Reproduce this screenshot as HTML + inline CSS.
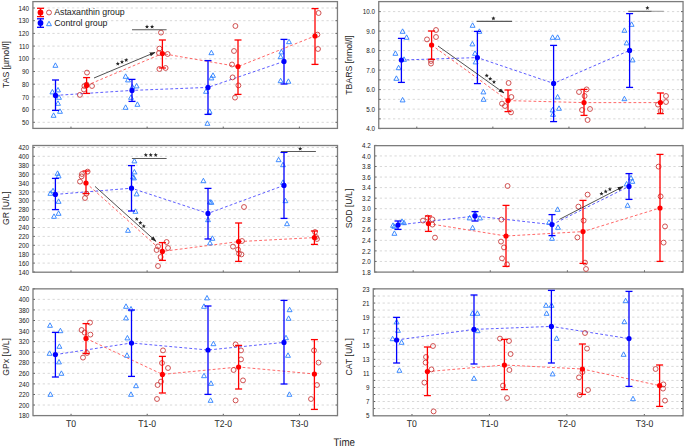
<!DOCTYPE html>
<html><head><meta charset="utf-8"><title>chart</title>
<style>
html,body{margin:0;padding:0;background:#fff;}
body{width:685px;height:447px;overflow:hidden;}
svg{display:block;font-family:"Liberation Sans", sans-serif;}
</style></head><body>
<svg width="685" height="447" viewBox="0 0 685 447">
<defs><marker id="ah" viewBox="0 0 10 10" refX="9" refY="5" markerWidth="6" markerHeight="6" orient="auto" markerUnits="userSpaceOnUse"><path d="M0,1.6 L10,5 L0,8.4 z" fill="#262626"/></marker></defs>
<rect width="685" height="447" fill="#fff"/>
<line x1="37.68" y1="122.3" x2="336.45" y2="122.3" stroke="#d8d8d8" stroke-width="1" stroke-dasharray="2.3 2.594"/>
<line x1="32.9" y1="122.3" x2="34.9" y2="122.3" stroke="#4a4a4a" stroke-width="0.9"/>
<line x1="335.45" y1="122.3" x2="337.45" y2="122.3" stroke="#4a4a4a" stroke-width="0.9"/>
<text x="29.1" y="124.9" font-size="6.3" text-anchor="end" fill="#1a1a1a">50</text>
<line x1="37.68" y1="109.6" x2="336.45" y2="109.6" stroke="#d8d8d8" stroke-width="1" stroke-dasharray="2.3 2.594"/>
<line x1="32.9" y1="109.6" x2="34.9" y2="109.6" stroke="#4a4a4a" stroke-width="0.9"/>
<line x1="335.45" y1="109.6" x2="337.45" y2="109.6" stroke="#4a4a4a" stroke-width="0.9"/>
<text x="29.1" y="112.2" font-size="6.3" text-anchor="end" fill="#1a1a1a">60</text>
<line x1="37.68" y1="96.9" x2="336.45" y2="96.9" stroke="#d8d8d8" stroke-width="1" stroke-dasharray="2.3 2.594"/>
<line x1="32.9" y1="96.9" x2="34.9" y2="96.9" stroke="#4a4a4a" stroke-width="0.9"/>
<line x1="335.45" y1="96.9" x2="337.45" y2="96.9" stroke="#4a4a4a" stroke-width="0.9"/>
<text x="29.1" y="99.5" font-size="6.3" text-anchor="end" fill="#1a1a1a">70</text>
<line x1="37.68" y1="84.2" x2="336.45" y2="84.2" stroke="#d8d8d8" stroke-width="1" stroke-dasharray="2.3 2.594"/>
<line x1="32.9" y1="84.2" x2="34.9" y2="84.2" stroke="#4a4a4a" stroke-width="0.9"/>
<line x1="335.45" y1="84.2" x2="337.45" y2="84.2" stroke="#4a4a4a" stroke-width="0.9"/>
<text x="29.1" y="86.8" font-size="6.3" text-anchor="end" fill="#1a1a1a">80</text>
<line x1="37.68" y1="71.5" x2="336.45" y2="71.5" stroke="#d8d8d8" stroke-width="1" stroke-dasharray="2.3 2.594"/>
<line x1="32.9" y1="71.5" x2="34.9" y2="71.5" stroke="#4a4a4a" stroke-width="0.9"/>
<line x1="335.45" y1="71.5" x2="337.45" y2="71.5" stroke="#4a4a4a" stroke-width="0.9"/>
<text x="29.1" y="74.1" font-size="6.3" text-anchor="end" fill="#1a1a1a">90</text>
<line x1="37.68" y1="58.8" x2="336.45" y2="58.8" stroke="#d8d8d8" stroke-width="1" stroke-dasharray="2.3 2.594"/>
<line x1="32.9" y1="58.8" x2="34.9" y2="58.8" stroke="#4a4a4a" stroke-width="0.9"/>
<line x1="335.45" y1="58.8" x2="337.45" y2="58.8" stroke="#4a4a4a" stroke-width="0.9"/>
<text x="29.1" y="61.4" font-size="6.3" text-anchor="end" fill="#1a1a1a">100</text>
<line x1="37.68" y1="46.1" x2="336.45" y2="46.1" stroke="#d8d8d8" stroke-width="1" stroke-dasharray="2.3 2.594"/>
<line x1="32.9" y1="46.1" x2="34.9" y2="46.1" stroke="#4a4a4a" stroke-width="0.9"/>
<line x1="335.45" y1="46.1" x2="337.45" y2="46.1" stroke="#4a4a4a" stroke-width="0.9"/>
<text x="29.1" y="48.7" font-size="6.3" text-anchor="end" fill="#1a1a1a">110</text>
<line x1="37.68" y1="33.4" x2="336.45" y2="33.4" stroke="#d8d8d8" stroke-width="1" stroke-dasharray="2.3 2.594"/>
<line x1="32.9" y1="33.4" x2="34.9" y2="33.4" stroke="#4a4a4a" stroke-width="0.9"/>
<line x1="335.45" y1="33.4" x2="337.45" y2="33.4" stroke="#4a4a4a" stroke-width="0.9"/>
<text x="29.1" y="36" font-size="6.3" text-anchor="end" fill="#1a1a1a">120</text>
<line x1="37.68" y1="20.7" x2="336.45" y2="20.7" stroke="#d8d8d8" stroke-width="1" stroke-dasharray="2.3 2.594"/>
<line x1="32.9" y1="20.7" x2="34.9" y2="20.7" stroke="#4a4a4a" stroke-width="0.9"/>
<line x1="335.45" y1="20.7" x2="337.45" y2="20.7" stroke="#4a4a4a" stroke-width="0.9"/>
<text x="29.1" y="23.3" font-size="6.3" text-anchor="end" fill="#1a1a1a">130</text>
<line x1="37.68" y1="8" x2="336.45" y2="8" stroke="#d8d8d8" stroke-width="1" stroke-dasharray="2.3 2.594"/>
<line x1="32.9" y1="8" x2="34.9" y2="8" stroke="#4a4a4a" stroke-width="0.9"/>
<line x1="335.45" y1="8" x2="337.45" y2="8" stroke="#4a4a4a" stroke-width="0.9"/>
<text x="29.1" y="10.6" font-size="6.3" text-anchor="end" fill="#1a1a1a">140</text>
<line x1="70.97" y1="128.4" x2="70.97" y2="126.6" stroke="#4a4a4a" stroke-width="0.9"/>
<line x1="147.11" y1="128.4" x2="147.11" y2="126.6" stroke="#4a4a4a" stroke-width="0.9"/>
<line x1="223.24" y1="128.4" x2="223.24" y2="126.6" stroke="#4a4a4a" stroke-width="0.9"/>
<line x1="299.38" y1="128.4" x2="299.38" y2="126.6" stroke="#4a4a4a" stroke-width="0.9"/>
<rect x="32.9" y="1.6" width="304.55" height="126.8" fill="none" stroke="#7c7c7c" stroke-width="1.3"/>
<text transform="translate(8.6,64.6) rotate(-90)" font-size="8.7" text-anchor="middle" fill="#1a1a1a">TAS [µmol/l]</text>
<line x1="378.75" y1="128.6" x2="380.75" y2="128.6" stroke="#4a4a4a" stroke-width="0.9"/>
<line x1="681.05" y1="128.6" x2="683.05" y2="128.6" stroke="#4a4a4a" stroke-width="0.9"/>
<text x="374.95" y="131.2" font-size="6.3" text-anchor="end" fill="#1a1a1a">4.0</text>
<line x1="383.19" y1="118.85" x2="682.05" y2="118.85" stroke="#d8d8d8" stroke-width="1" stroke-dasharray="2.3 2.594"/>
<line x1="378.75" y1="118.85" x2="380.75" y2="118.85" stroke="#4a4a4a" stroke-width="0.9"/>
<line x1="681.05" y1="118.85" x2="683.05" y2="118.85" stroke="#4a4a4a" stroke-width="0.9"/>
<line x1="383.19" y1="109.1" x2="682.05" y2="109.1" stroke="#d8d8d8" stroke-width="1" stroke-dasharray="2.3 2.594"/>
<line x1="378.75" y1="109.1" x2="380.75" y2="109.1" stroke="#4a4a4a" stroke-width="0.9"/>
<line x1="681.05" y1="109.1" x2="683.05" y2="109.1" stroke="#4a4a4a" stroke-width="0.9"/>
<text x="374.95" y="111.7" font-size="6.3" text-anchor="end" fill="#1a1a1a">5.0</text>
<line x1="383.19" y1="99.35" x2="682.05" y2="99.35" stroke="#d8d8d8" stroke-width="1" stroke-dasharray="2.3 2.594"/>
<line x1="378.75" y1="99.35" x2="380.75" y2="99.35" stroke="#4a4a4a" stroke-width="0.9"/>
<line x1="681.05" y1="99.35" x2="683.05" y2="99.35" stroke="#4a4a4a" stroke-width="0.9"/>
<line x1="383.19" y1="89.6" x2="682.05" y2="89.6" stroke="#d8d8d8" stroke-width="1" stroke-dasharray="2.3 2.594"/>
<line x1="378.75" y1="89.6" x2="380.75" y2="89.6" stroke="#4a4a4a" stroke-width="0.9"/>
<line x1="681.05" y1="89.6" x2="683.05" y2="89.6" stroke="#4a4a4a" stroke-width="0.9"/>
<text x="374.95" y="92.2" font-size="6.3" text-anchor="end" fill="#1a1a1a">6.0</text>
<line x1="383.19" y1="79.85" x2="682.05" y2="79.85" stroke="#d8d8d8" stroke-width="1" stroke-dasharray="2.3 2.594"/>
<line x1="378.75" y1="79.85" x2="380.75" y2="79.85" stroke="#4a4a4a" stroke-width="0.9"/>
<line x1="681.05" y1="79.85" x2="683.05" y2="79.85" stroke="#4a4a4a" stroke-width="0.9"/>
<line x1="383.19" y1="70.1" x2="682.05" y2="70.1" stroke="#d8d8d8" stroke-width="1" stroke-dasharray="2.3 2.594"/>
<line x1="378.75" y1="70.1" x2="380.75" y2="70.1" stroke="#4a4a4a" stroke-width="0.9"/>
<line x1="681.05" y1="70.1" x2="683.05" y2="70.1" stroke="#4a4a4a" stroke-width="0.9"/>
<text x="374.95" y="72.7" font-size="6.3" text-anchor="end" fill="#1a1a1a">7.0</text>
<line x1="383.19" y1="60.35" x2="682.05" y2="60.35" stroke="#d8d8d8" stroke-width="1" stroke-dasharray="2.3 2.594"/>
<line x1="378.75" y1="60.35" x2="380.75" y2="60.35" stroke="#4a4a4a" stroke-width="0.9"/>
<line x1="681.05" y1="60.35" x2="683.05" y2="60.35" stroke="#4a4a4a" stroke-width="0.9"/>
<line x1="383.19" y1="50.6" x2="682.05" y2="50.6" stroke="#d8d8d8" stroke-width="1" stroke-dasharray="2.3 2.594"/>
<line x1="378.75" y1="50.6" x2="380.75" y2="50.6" stroke="#4a4a4a" stroke-width="0.9"/>
<line x1="681.05" y1="50.6" x2="683.05" y2="50.6" stroke="#4a4a4a" stroke-width="0.9"/>
<text x="374.95" y="53.2" font-size="6.3" text-anchor="end" fill="#1a1a1a">8.0</text>
<line x1="383.19" y1="40.85" x2="682.05" y2="40.85" stroke="#d8d8d8" stroke-width="1" stroke-dasharray="2.3 2.594"/>
<line x1="378.75" y1="40.85" x2="380.75" y2="40.85" stroke="#4a4a4a" stroke-width="0.9"/>
<line x1="681.05" y1="40.85" x2="683.05" y2="40.85" stroke="#4a4a4a" stroke-width="0.9"/>
<line x1="383.19" y1="31.1" x2="682.05" y2="31.1" stroke="#d8d8d8" stroke-width="1" stroke-dasharray="2.3 2.594"/>
<line x1="378.75" y1="31.1" x2="380.75" y2="31.1" stroke="#4a4a4a" stroke-width="0.9"/>
<line x1="681.05" y1="31.1" x2="683.05" y2="31.1" stroke="#4a4a4a" stroke-width="0.9"/>
<text x="374.95" y="33.7" font-size="6.3" text-anchor="end" fill="#1a1a1a">9.0</text>
<line x1="383.19" y1="21.35" x2="682.05" y2="21.35" stroke="#d8d8d8" stroke-width="1" stroke-dasharray="2.3 2.594"/>
<line x1="378.75" y1="21.35" x2="380.75" y2="21.35" stroke="#4a4a4a" stroke-width="0.9"/>
<line x1="681.05" y1="21.35" x2="683.05" y2="21.35" stroke="#4a4a4a" stroke-width="0.9"/>
<line x1="383.19" y1="11.6" x2="682.05" y2="11.6" stroke="#d8d8d8" stroke-width="1" stroke-dasharray="2.3 2.594"/>
<line x1="378.75" y1="11.6" x2="380.75" y2="11.6" stroke="#4a4a4a" stroke-width="0.9"/>
<line x1="681.05" y1="11.6" x2="683.05" y2="11.6" stroke="#4a4a4a" stroke-width="0.9"/>
<text x="374.95" y="14.2" font-size="6.3" text-anchor="end" fill="#1a1a1a">10.0</text>
<line x1="416.79" y1="128.4" x2="416.79" y2="126.6" stroke="#4a4a4a" stroke-width="0.9"/>
<line x1="492.86" y1="128.4" x2="492.86" y2="126.6" stroke="#4a4a4a" stroke-width="0.9"/>
<line x1="568.94" y1="128.4" x2="568.94" y2="126.6" stroke="#4a4a4a" stroke-width="0.9"/>
<line x1="645.01" y1="128.4" x2="645.01" y2="126.6" stroke="#4a4a4a" stroke-width="0.9"/>
<rect x="378.75" y="1.6" width="304.3" height="126.8" fill="none" stroke="#7c7c7c" stroke-width="1.3"/>
<text transform="translate(352.3,65) rotate(-90)" font-size="8.7" text-anchor="middle" fill="#1a1a1a">TBARS [nmol/l]</text>
<line x1="32.9" y1="272" x2="34.9" y2="272" stroke="#4a4a4a" stroke-width="0.9"/>
<line x1="335.5" y1="272" x2="337.5" y2="272" stroke="#4a4a4a" stroke-width="0.9"/>
<text x="29.1" y="274.6" font-size="6.3" text-anchor="end" fill="#1a1a1a">140</text>
<line x1="37.68" y1="263.1" x2="336.5" y2="263.1" stroke="#d8d8d8" stroke-width="1" stroke-dasharray="2.3 2.594"/>
<line x1="32.9" y1="263.1" x2="34.9" y2="263.1" stroke="#4a4a4a" stroke-width="0.9"/>
<line x1="335.5" y1="263.1" x2="337.5" y2="263.1" stroke="#4a4a4a" stroke-width="0.9"/>
<text x="29.1" y="265.7" font-size="6.3" text-anchor="end" fill="#1a1a1a">160</text>
<line x1="37.68" y1="254.2" x2="336.5" y2="254.2" stroke="#d8d8d8" stroke-width="1" stroke-dasharray="2.3 2.594"/>
<line x1="32.9" y1="254.2" x2="34.9" y2="254.2" stroke="#4a4a4a" stroke-width="0.9"/>
<line x1="335.5" y1="254.2" x2="337.5" y2="254.2" stroke="#4a4a4a" stroke-width="0.9"/>
<text x="29.1" y="256.8" font-size="6.3" text-anchor="end" fill="#1a1a1a">180</text>
<line x1="37.68" y1="245.3" x2="336.5" y2="245.3" stroke="#d8d8d8" stroke-width="1" stroke-dasharray="2.3 2.594"/>
<line x1="32.9" y1="245.3" x2="34.9" y2="245.3" stroke="#4a4a4a" stroke-width="0.9"/>
<line x1="335.5" y1="245.3" x2="337.5" y2="245.3" stroke="#4a4a4a" stroke-width="0.9"/>
<text x="29.1" y="247.9" font-size="6.3" text-anchor="end" fill="#1a1a1a">200</text>
<line x1="37.68" y1="236.4" x2="336.5" y2="236.4" stroke="#d8d8d8" stroke-width="1" stroke-dasharray="2.3 2.594"/>
<line x1="32.9" y1="236.4" x2="34.9" y2="236.4" stroke="#4a4a4a" stroke-width="0.9"/>
<line x1="335.5" y1="236.4" x2="337.5" y2="236.4" stroke="#4a4a4a" stroke-width="0.9"/>
<text x="29.1" y="239" font-size="6.3" text-anchor="end" fill="#1a1a1a">220</text>
<line x1="37.68" y1="227.5" x2="336.5" y2="227.5" stroke="#d8d8d8" stroke-width="1" stroke-dasharray="2.3 2.594"/>
<line x1="32.9" y1="227.5" x2="34.9" y2="227.5" stroke="#4a4a4a" stroke-width="0.9"/>
<line x1="335.5" y1="227.5" x2="337.5" y2="227.5" stroke="#4a4a4a" stroke-width="0.9"/>
<text x="29.1" y="230.1" font-size="6.3" text-anchor="end" fill="#1a1a1a">240</text>
<line x1="37.68" y1="218.6" x2="336.5" y2="218.6" stroke="#d8d8d8" stroke-width="1" stroke-dasharray="2.3 2.594"/>
<line x1="32.9" y1="218.6" x2="34.9" y2="218.6" stroke="#4a4a4a" stroke-width="0.9"/>
<line x1="335.5" y1="218.6" x2="337.5" y2="218.6" stroke="#4a4a4a" stroke-width="0.9"/>
<text x="29.1" y="221.2" font-size="6.3" text-anchor="end" fill="#1a1a1a">260</text>
<line x1="37.68" y1="209.7" x2="336.5" y2="209.7" stroke="#d8d8d8" stroke-width="1" stroke-dasharray="2.3 2.594"/>
<line x1="32.9" y1="209.7" x2="34.9" y2="209.7" stroke="#4a4a4a" stroke-width="0.9"/>
<line x1="335.5" y1="209.7" x2="337.5" y2="209.7" stroke="#4a4a4a" stroke-width="0.9"/>
<text x="29.1" y="212.3" font-size="6.3" text-anchor="end" fill="#1a1a1a">280</text>
<line x1="37.68" y1="200.8" x2="336.5" y2="200.8" stroke="#d8d8d8" stroke-width="1" stroke-dasharray="2.3 2.594"/>
<line x1="32.9" y1="200.8" x2="34.9" y2="200.8" stroke="#4a4a4a" stroke-width="0.9"/>
<line x1="335.5" y1="200.8" x2="337.5" y2="200.8" stroke="#4a4a4a" stroke-width="0.9"/>
<text x="29.1" y="203.4" font-size="6.3" text-anchor="end" fill="#1a1a1a">300</text>
<line x1="37.68" y1="191.9" x2="336.5" y2="191.9" stroke="#d8d8d8" stroke-width="1" stroke-dasharray="2.3 2.594"/>
<line x1="32.9" y1="191.9" x2="34.9" y2="191.9" stroke="#4a4a4a" stroke-width="0.9"/>
<line x1="335.5" y1="191.9" x2="337.5" y2="191.9" stroke="#4a4a4a" stroke-width="0.9"/>
<text x="29.1" y="194.5" font-size="6.3" text-anchor="end" fill="#1a1a1a">320</text>
<line x1="37.68" y1="183" x2="336.5" y2="183" stroke="#d8d8d8" stroke-width="1" stroke-dasharray="2.3 2.594"/>
<line x1="32.9" y1="183" x2="34.9" y2="183" stroke="#4a4a4a" stroke-width="0.9"/>
<line x1="335.5" y1="183" x2="337.5" y2="183" stroke="#4a4a4a" stroke-width="0.9"/>
<text x="29.1" y="185.6" font-size="6.3" text-anchor="end" fill="#1a1a1a">340</text>
<line x1="37.68" y1="174.1" x2="336.5" y2="174.1" stroke="#d8d8d8" stroke-width="1" stroke-dasharray="2.3 2.594"/>
<line x1="32.9" y1="174.1" x2="34.9" y2="174.1" stroke="#4a4a4a" stroke-width="0.9"/>
<line x1="335.5" y1="174.1" x2="337.5" y2="174.1" stroke="#4a4a4a" stroke-width="0.9"/>
<text x="29.1" y="176.7" font-size="6.3" text-anchor="end" fill="#1a1a1a">360</text>
<line x1="37.68" y1="165.2" x2="336.5" y2="165.2" stroke="#d8d8d8" stroke-width="1" stroke-dasharray="2.3 2.594"/>
<line x1="32.9" y1="165.2" x2="34.9" y2="165.2" stroke="#4a4a4a" stroke-width="0.9"/>
<line x1="335.5" y1="165.2" x2="337.5" y2="165.2" stroke="#4a4a4a" stroke-width="0.9"/>
<text x="29.1" y="167.8" font-size="6.3" text-anchor="end" fill="#1a1a1a">380</text>
<line x1="37.68" y1="156.3" x2="336.5" y2="156.3" stroke="#d8d8d8" stroke-width="1" stroke-dasharray="2.3 2.594"/>
<line x1="32.9" y1="156.3" x2="34.9" y2="156.3" stroke="#4a4a4a" stroke-width="0.9"/>
<line x1="335.5" y1="156.3" x2="337.5" y2="156.3" stroke="#4a4a4a" stroke-width="0.9"/>
<text x="29.1" y="158.9" font-size="6.3" text-anchor="end" fill="#1a1a1a">400</text>
<line x1="37.68" y1="147.4" x2="336.5" y2="147.4" stroke="#d8d8d8" stroke-width="1" stroke-dasharray="2.3 2.594"/>
<line x1="32.9" y1="147.4" x2="34.9" y2="147.4" stroke="#4a4a4a" stroke-width="0.9"/>
<line x1="335.5" y1="147.4" x2="337.5" y2="147.4" stroke="#4a4a4a" stroke-width="0.9"/>
<text x="29.1" y="150" font-size="6.3" text-anchor="end" fill="#1a1a1a">420</text>
<line x1="70.97" y1="272.2" x2="70.97" y2="270.4" stroke="#4a4a4a" stroke-width="0.9"/>
<line x1="147.12" y1="272.2" x2="147.12" y2="270.4" stroke="#4a4a4a" stroke-width="0.9"/>
<line x1="223.28" y1="272.2" x2="223.28" y2="270.4" stroke="#4a4a4a" stroke-width="0.9"/>
<line x1="299.43" y1="272.2" x2="299.43" y2="270.4" stroke="#4a4a4a" stroke-width="0.9"/>
<rect x="32.9" y="145.5" width="304.6" height="126.7" fill="none" stroke="#7c7c7c" stroke-width="1.3"/>
<text transform="translate(8.5,208.2) rotate(-90)" font-size="8.7" text-anchor="middle" fill="#1a1a1a">GR [U/L]</text>
<line x1="374.6" y1="272" x2="376.6" y2="272" stroke="#4a4a4a" stroke-width="0.9"/>
<line x1="681.05" y1="272" x2="683.05" y2="272" stroke="#4a4a4a" stroke-width="0.9"/>
<text x="370.8" y="274.6" font-size="6.3" text-anchor="end" fill="#1a1a1a">1.8</text>
<line x1="379.74" y1="261.45" x2="682.05" y2="261.45" stroke="#d8d8d8" stroke-width="1" stroke-dasharray="2.3 2.594"/>
<line x1="374.6" y1="261.45" x2="376.6" y2="261.45" stroke="#4a4a4a" stroke-width="0.9"/>
<line x1="681.05" y1="261.45" x2="683.05" y2="261.45" stroke="#4a4a4a" stroke-width="0.9"/>
<text x="370.8" y="264.05" font-size="6.3" text-anchor="end" fill="#1a1a1a">2.0</text>
<line x1="379.74" y1="250.9" x2="682.05" y2="250.9" stroke="#d8d8d8" stroke-width="1" stroke-dasharray="2.3 2.594"/>
<line x1="374.6" y1="250.9" x2="376.6" y2="250.9" stroke="#4a4a4a" stroke-width="0.9"/>
<line x1="681.05" y1="250.9" x2="683.05" y2="250.9" stroke="#4a4a4a" stroke-width="0.9"/>
<text x="370.8" y="253.5" font-size="6.3" text-anchor="end" fill="#1a1a1a">2.2</text>
<line x1="379.74" y1="240.35" x2="682.05" y2="240.35" stroke="#d8d8d8" stroke-width="1" stroke-dasharray="2.3 2.594"/>
<line x1="374.6" y1="240.35" x2="376.6" y2="240.35" stroke="#4a4a4a" stroke-width="0.9"/>
<line x1="681.05" y1="240.35" x2="683.05" y2="240.35" stroke="#4a4a4a" stroke-width="0.9"/>
<text x="370.8" y="242.95" font-size="6.3" text-anchor="end" fill="#1a1a1a">2.4</text>
<line x1="379.74" y1="229.8" x2="682.05" y2="229.8" stroke="#d8d8d8" stroke-width="1" stroke-dasharray="2.3 2.594"/>
<line x1="374.6" y1="229.8" x2="376.6" y2="229.8" stroke="#4a4a4a" stroke-width="0.9"/>
<line x1="681.05" y1="229.8" x2="683.05" y2="229.8" stroke="#4a4a4a" stroke-width="0.9"/>
<text x="370.8" y="232.4" font-size="6.3" text-anchor="end" fill="#1a1a1a">2.6</text>
<line x1="379.74" y1="219.25" x2="682.05" y2="219.25" stroke="#d8d8d8" stroke-width="1" stroke-dasharray="2.3 2.594"/>
<line x1="374.6" y1="219.25" x2="376.6" y2="219.25" stroke="#4a4a4a" stroke-width="0.9"/>
<line x1="681.05" y1="219.25" x2="683.05" y2="219.25" stroke="#4a4a4a" stroke-width="0.9"/>
<text x="370.8" y="221.85" font-size="6.3" text-anchor="end" fill="#1a1a1a">2.8</text>
<line x1="379.74" y1="208.7" x2="682.05" y2="208.7" stroke="#d8d8d8" stroke-width="1" stroke-dasharray="2.3 2.594"/>
<line x1="374.6" y1="208.7" x2="376.6" y2="208.7" stroke="#4a4a4a" stroke-width="0.9"/>
<line x1="681.05" y1="208.7" x2="683.05" y2="208.7" stroke="#4a4a4a" stroke-width="0.9"/>
<text x="370.8" y="211.3" font-size="6.3" text-anchor="end" fill="#1a1a1a">3.0</text>
<line x1="379.74" y1="198.15" x2="682.05" y2="198.15" stroke="#d8d8d8" stroke-width="1" stroke-dasharray="2.3 2.594"/>
<line x1="374.6" y1="198.15" x2="376.6" y2="198.15" stroke="#4a4a4a" stroke-width="0.9"/>
<line x1="681.05" y1="198.15" x2="683.05" y2="198.15" stroke="#4a4a4a" stroke-width="0.9"/>
<text x="370.8" y="200.75" font-size="6.3" text-anchor="end" fill="#1a1a1a">3.2</text>
<line x1="379.74" y1="187.6" x2="682.05" y2="187.6" stroke="#d8d8d8" stroke-width="1" stroke-dasharray="2.3 2.594"/>
<line x1="374.6" y1="187.6" x2="376.6" y2="187.6" stroke="#4a4a4a" stroke-width="0.9"/>
<line x1="681.05" y1="187.6" x2="683.05" y2="187.6" stroke="#4a4a4a" stroke-width="0.9"/>
<text x="370.8" y="190.2" font-size="6.3" text-anchor="end" fill="#1a1a1a">3.4</text>
<line x1="379.74" y1="177.05" x2="682.05" y2="177.05" stroke="#d8d8d8" stroke-width="1" stroke-dasharray="2.3 2.594"/>
<line x1="374.6" y1="177.05" x2="376.6" y2="177.05" stroke="#4a4a4a" stroke-width="0.9"/>
<line x1="681.05" y1="177.05" x2="683.05" y2="177.05" stroke="#4a4a4a" stroke-width="0.9"/>
<text x="370.8" y="179.65" font-size="6.3" text-anchor="end" fill="#1a1a1a">3.6</text>
<line x1="379.74" y1="166.5" x2="682.05" y2="166.5" stroke="#d8d8d8" stroke-width="1" stroke-dasharray="2.3 2.594"/>
<line x1="374.6" y1="166.5" x2="376.6" y2="166.5" stroke="#4a4a4a" stroke-width="0.9"/>
<line x1="681.05" y1="166.5" x2="683.05" y2="166.5" stroke="#4a4a4a" stroke-width="0.9"/>
<text x="370.8" y="169.1" font-size="6.3" text-anchor="end" fill="#1a1a1a">3.8</text>
<line x1="379.74" y1="155.95" x2="682.05" y2="155.95" stroke="#d8d8d8" stroke-width="1" stroke-dasharray="2.3 2.594"/>
<line x1="374.6" y1="155.95" x2="376.6" y2="155.95" stroke="#4a4a4a" stroke-width="0.9"/>
<line x1="681.05" y1="155.95" x2="683.05" y2="155.95" stroke="#4a4a4a" stroke-width="0.9"/>
<text x="370.8" y="158.55" font-size="6.3" text-anchor="end" fill="#1a1a1a">4.0</text>
<line x1="374.6" y1="145.4" x2="376.6" y2="145.4" stroke="#4a4a4a" stroke-width="0.9"/>
<line x1="681.05" y1="145.4" x2="683.05" y2="145.4" stroke="#4a4a4a" stroke-width="0.9"/>
<text x="370.8" y="148" font-size="6.3" text-anchor="end" fill="#1a1a1a">4.2</text>
<line x1="413.16" y1="272.1" x2="413.16" y2="270.3" stroke="#4a4a4a" stroke-width="0.9"/>
<line x1="490.27" y1="272.1" x2="490.27" y2="270.3" stroke="#4a4a4a" stroke-width="0.9"/>
<line x1="567.38" y1="272.1" x2="567.38" y2="270.3" stroke="#4a4a4a" stroke-width="0.9"/>
<line x1="644.49" y1="272.1" x2="644.49" y2="270.3" stroke="#4a4a4a" stroke-width="0.9"/>
<rect x="374.6" y="145.65" width="308.45" height="126.45" fill="none" stroke="#7c7c7c" stroke-width="1.3"/>
<text transform="translate(352.3,208.5) rotate(-90)" font-size="8.7" text-anchor="middle" fill="#1a1a1a">SOD [U/L]</text>
<line x1="33" y1="415.6" x2="35" y2="415.6" stroke="#4a4a4a" stroke-width="0.9"/>
<line x1="335.5" y1="415.6" x2="337.5" y2="415.6" stroke="#4a4a4a" stroke-width="0.9"/>
<text x="29.2" y="418.2" font-size="6.3" text-anchor="end" fill="#1a1a1a">180</text>
<line x1="37.78" y1="405.03" x2="336.5" y2="405.03" stroke="#d8d8d8" stroke-width="1" stroke-dasharray="2.3 2.594"/>
<line x1="33" y1="405.03" x2="35" y2="405.03" stroke="#4a4a4a" stroke-width="0.9"/>
<line x1="335.5" y1="405.03" x2="337.5" y2="405.03" stroke="#4a4a4a" stroke-width="0.9"/>
<text x="29.2" y="407.63" font-size="6.3" text-anchor="end" fill="#1a1a1a">200</text>
<line x1="37.78" y1="394.47" x2="336.5" y2="394.47" stroke="#d8d8d8" stroke-width="1" stroke-dasharray="2.3 2.594"/>
<line x1="33" y1="394.47" x2="35" y2="394.47" stroke="#4a4a4a" stroke-width="0.9"/>
<line x1="335.5" y1="394.47" x2="337.5" y2="394.47" stroke="#4a4a4a" stroke-width="0.9"/>
<text x="29.2" y="397.07" font-size="6.3" text-anchor="end" fill="#1a1a1a">220</text>
<line x1="37.78" y1="383.9" x2="336.5" y2="383.9" stroke="#d8d8d8" stroke-width="1" stroke-dasharray="2.3 2.594"/>
<line x1="33" y1="383.9" x2="35" y2="383.9" stroke="#4a4a4a" stroke-width="0.9"/>
<line x1="335.5" y1="383.9" x2="337.5" y2="383.9" stroke="#4a4a4a" stroke-width="0.9"/>
<text x="29.2" y="386.5" font-size="6.3" text-anchor="end" fill="#1a1a1a">240</text>
<line x1="37.78" y1="373.33" x2="336.5" y2="373.33" stroke="#d8d8d8" stroke-width="1" stroke-dasharray="2.3 2.594"/>
<line x1="33" y1="373.33" x2="35" y2="373.33" stroke="#4a4a4a" stroke-width="0.9"/>
<line x1="335.5" y1="373.33" x2="337.5" y2="373.33" stroke="#4a4a4a" stroke-width="0.9"/>
<text x="29.2" y="375.93" font-size="6.3" text-anchor="end" fill="#1a1a1a">260</text>
<line x1="37.78" y1="362.77" x2="336.5" y2="362.77" stroke="#d8d8d8" stroke-width="1" stroke-dasharray="2.3 2.594"/>
<line x1="33" y1="362.77" x2="35" y2="362.77" stroke="#4a4a4a" stroke-width="0.9"/>
<line x1="335.5" y1="362.77" x2="337.5" y2="362.77" stroke="#4a4a4a" stroke-width="0.9"/>
<text x="29.2" y="365.37" font-size="6.3" text-anchor="end" fill="#1a1a1a">280</text>
<line x1="37.78" y1="352.2" x2="336.5" y2="352.2" stroke="#d8d8d8" stroke-width="1" stroke-dasharray="2.3 2.594"/>
<line x1="33" y1="352.2" x2="35" y2="352.2" stroke="#4a4a4a" stroke-width="0.9"/>
<line x1="335.5" y1="352.2" x2="337.5" y2="352.2" stroke="#4a4a4a" stroke-width="0.9"/>
<text x="29.2" y="354.8" font-size="6.3" text-anchor="end" fill="#1a1a1a">300</text>
<line x1="37.78" y1="341.63" x2="336.5" y2="341.63" stroke="#d8d8d8" stroke-width="1" stroke-dasharray="2.3 2.594"/>
<line x1="33" y1="341.63" x2="35" y2="341.63" stroke="#4a4a4a" stroke-width="0.9"/>
<line x1="335.5" y1="341.63" x2="337.5" y2="341.63" stroke="#4a4a4a" stroke-width="0.9"/>
<text x="29.2" y="344.23" font-size="6.3" text-anchor="end" fill="#1a1a1a">320</text>
<line x1="37.78" y1="331.07" x2="336.5" y2="331.07" stroke="#d8d8d8" stroke-width="1" stroke-dasharray="2.3 2.594"/>
<line x1="33" y1="331.07" x2="35" y2="331.07" stroke="#4a4a4a" stroke-width="0.9"/>
<line x1="335.5" y1="331.07" x2="337.5" y2="331.07" stroke="#4a4a4a" stroke-width="0.9"/>
<text x="29.2" y="333.67" font-size="6.3" text-anchor="end" fill="#1a1a1a">340</text>
<line x1="37.78" y1="320.5" x2="336.5" y2="320.5" stroke="#d8d8d8" stroke-width="1" stroke-dasharray="2.3 2.594"/>
<line x1="33" y1="320.5" x2="35" y2="320.5" stroke="#4a4a4a" stroke-width="0.9"/>
<line x1="335.5" y1="320.5" x2="337.5" y2="320.5" stroke="#4a4a4a" stroke-width="0.9"/>
<text x="29.2" y="323.1" font-size="6.3" text-anchor="end" fill="#1a1a1a">360</text>
<line x1="37.78" y1="309.93" x2="336.5" y2="309.93" stroke="#d8d8d8" stroke-width="1" stroke-dasharray="2.3 2.594"/>
<line x1="33" y1="309.93" x2="35" y2="309.93" stroke="#4a4a4a" stroke-width="0.9"/>
<line x1="335.5" y1="309.93" x2="337.5" y2="309.93" stroke="#4a4a4a" stroke-width="0.9"/>
<text x="29.2" y="312.53" font-size="6.3" text-anchor="end" fill="#1a1a1a">380</text>
<line x1="37.78" y1="299.37" x2="336.5" y2="299.37" stroke="#d8d8d8" stroke-width="1" stroke-dasharray="2.3 2.594"/>
<line x1="33" y1="299.37" x2="35" y2="299.37" stroke="#4a4a4a" stroke-width="0.9"/>
<line x1="335.5" y1="299.37" x2="337.5" y2="299.37" stroke="#4a4a4a" stroke-width="0.9"/>
<text x="29.2" y="301.97" font-size="6.3" text-anchor="end" fill="#1a1a1a">400</text>
<line x1="33" y1="288.8" x2="35" y2="288.8" stroke="#4a4a4a" stroke-width="0.9"/>
<line x1="335.5" y1="288.8" x2="337.5" y2="288.8" stroke="#4a4a4a" stroke-width="0.9"/>
<text x="29.2" y="291.4" font-size="6.3" text-anchor="end" fill="#1a1a1a">420</text>
<line x1="71.06" y1="415.6" x2="71.06" y2="413.8" stroke="#4a4a4a" stroke-width="0.9"/>
<line x1="147.19" y1="415.6" x2="147.19" y2="413.8" stroke="#4a4a4a" stroke-width="0.9"/>
<line x1="223.31" y1="415.6" x2="223.31" y2="413.8" stroke="#4a4a4a" stroke-width="0.9"/>
<line x1="299.44" y1="415.6" x2="299.44" y2="413.8" stroke="#4a4a4a" stroke-width="0.9"/>
<rect x="33" y="288.85" width="304.5" height="126.75" fill="none" stroke="#7c7c7c" stroke-width="1.3"/>
<text transform="translate(8.7,356.9) rotate(-90)" font-size="8.7" text-anchor="middle" fill="#1a1a1a">GPx [U/L]</text>
<line x1="373.25" y1="415.6" x2="375.25" y2="415.6" stroke="#4a4a4a" stroke-width="0.9"/>
<line x1="681.05" y1="415.6" x2="683.05" y2="415.6" stroke="#4a4a4a" stroke-width="0.9"/>
<text x="369.45" y="418.2" font-size="6.3" text-anchor="end" fill="#1a1a1a">5</text>
<line x1="377.69" y1="408.57" x2="682.05" y2="408.57" stroke="#d8d8d8" stroke-width="1" stroke-dasharray="2.3 2.594"/>
<line x1="373.25" y1="408.57" x2="375.25" y2="408.57" stroke="#4a4a4a" stroke-width="0.9"/>
<line x1="681.05" y1="408.57" x2="683.05" y2="408.57" stroke="#4a4a4a" stroke-width="0.9"/>
<line x1="377.69" y1="401.53" x2="682.05" y2="401.53" stroke="#d8d8d8" stroke-width="1" stroke-dasharray="2.3 2.594"/>
<line x1="373.25" y1="401.53" x2="375.25" y2="401.53" stroke="#4a4a4a" stroke-width="0.9"/>
<line x1="681.05" y1="401.53" x2="683.05" y2="401.53" stroke="#4a4a4a" stroke-width="0.9"/>
<text x="369.45" y="404.13" font-size="6.3" text-anchor="end" fill="#1a1a1a">7</text>
<line x1="377.69" y1="394.5" x2="682.05" y2="394.5" stroke="#d8d8d8" stroke-width="1" stroke-dasharray="2.3 2.594"/>
<line x1="373.25" y1="394.5" x2="375.25" y2="394.5" stroke="#4a4a4a" stroke-width="0.9"/>
<line x1="681.05" y1="394.5" x2="683.05" y2="394.5" stroke="#4a4a4a" stroke-width="0.9"/>
<line x1="377.69" y1="387.47" x2="682.05" y2="387.47" stroke="#d8d8d8" stroke-width="1" stroke-dasharray="2.3 2.594"/>
<line x1="373.25" y1="387.47" x2="375.25" y2="387.47" stroke="#4a4a4a" stroke-width="0.9"/>
<line x1="681.05" y1="387.47" x2="683.05" y2="387.47" stroke="#4a4a4a" stroke-width="0.9"/>
<text x="369.45" y="390.07" font-size="6.3" text-anchor="end" fill="#1a1a1a">9</text>
<line x1="377.69" y1="380.43" x2="682.05" y2="380.43" stroke="#d8d8d8" stroke-width="1" stroke-dasharray="2.3 2.594"/>
<line x1="373.25" y1="380.43" x2="375.25" y2="380.43" stroke="#4a4a4a" stroke-width="0.9"/>
<line x1="681.05" y1="380.43" x2="683.05" y2="380.43" stroke="#4a4a4a" stroke-width="0.9"/>
<line x1="377.69" y1="373.4" x2="682.05" y2="373.4" stroke="#d8d8d8" stroke-width="1" stroke-dasharray="2.3 2.594"/>
<line x1="373.25" y1="373.4" x2="375.25" y2="373.4" stroke="#4a4a4a" stroke-width="0.9"/>
<line x1="681.05" y1="373.4" x2="683.05" y2="373.4" stroke="#4a4a4a" stroke-width="0.9"/>
<text x="369.45" y="376" font-size="6.3" text-anchor="end" fill="#1a1a1a">11</text>
<line x1="377.69" y1="366.37" x2="682.05" y2="366.37" stroke="#d8d8d8" stroke-width="1" stroke-dasharray="2.3 2.594"/>
<line x1="373.25" y1="366.37" x2="375.25" y2="366.37" stroke="#4a4a4a" stroke-width="0.9"/>
<line x1="681.05" y1="366.37" x2="683.05" y2="366.37" stroke="#4a4a4a" stroke-width="0.9"/>
<line x1="377.69" y1="359.33" x2="682.05" y2="359.33" stroke="#d8d8d8" stroke-width="1" stroke-dasharray="2.3 2.594"/>
<line x1="373.25" y1="359.33" x2="375.25" y2="359.33" stroke="#4a4a4a" stroke-width="0.9"/>
<line x1="681.05" y1="359.33" x2="683.05" y2="359.33" stroke="#4a4a4a" stroke-width="0.9"/>
<text x="369.45" y="361.93" font-size="6.3" text-anchor="end" fill="#1a1a1a">13</text>
<line x1="377.69" y1="352.3" x2="682.05" y2="352.3" stroke="#d8d8d8" stroke-width="1" stroke-dasharray="2.3 2.594"/>
<line x1="373.25" y1="352.3" x2="375.25" y2="352.3" stroke="#4a4a4a" stroke-width="0.9"/>
<line x1="681.05" y1="352.3" x2="683.05" y2="352.3" stroke="#4a4a4a" stroke-width="0.9"/>
<line x1="377.69" y1="345.27" x2="682.05" y2="345.27" stroke="#d8d8d8" stroke-width="1" stroke-dasharray="2.3 2.594"/>
<line x1="373.25" y1="345.27" x2="375.25" y2="345.27" stroke="#4a4a4a" stroke-width="0.9"/>
<line x1="681.05" y1="345.27" x2="683.05" y2="345.27" stroke="#4a4a4a" stroke-width="0.9"/>
<text x="369.45" y="347.87" font-size="6.3" text-anchor="end" fill="#1a1a1a">15</text>
<line x1="377.69" y1="338.23" x2="682.05" y2="338.23" stroke="#d8d8d8" stroke-width="1" stroke-dasharray="2.3 2.594"/>
<line x1="373.25" y1="338.23" x2="375.25" y2="338.23" stroke="#4a4a4a" stroke-width="0.9"/>
<line x1="681.05" y1="338.23" x2="683.05" y2="338.23" stroke="#4a4a4a" stroke-width="0.9"/>
<line x1="377.69" y1="331.2" x2="682.05" y2="331.2" stroke="#d8d8d8" stroke-width="1" stroke-dasharray="2.3 2.594"/>
<line x1="373.25" y1="331.2" x2="375.25" y2="331.2" stroke="#4a4a4a" stroke-width="0.9"/>
<line x1="681.05" y1="331.2" x2="683.05" y2="331.2" stroke="#4a4a4a" stroke-width="0.9"/>
<text x="369.45" y="333.8" font-size="6.3" text-anchor="end" fill="#1a1a1a">17</text>
<line x1="377.69" y1="324.17" x2="682.05" y2="324.17" stroke="#d8d8d8" stroke-width="1" stroke-dasharray="2.3 2.594"/>
<line x1="373.25" y1="324.17" x2="375.25" y2="324.17" stroke="#4a4a4a" stroke-width="0.9"/>
<line x1="681.05" y1="324.17" x2="683.05" y2="324.17" stroke="#4a4a4a" stroke-width="0.9"/>
<line x1="377.69" y1="317.13" x2="682.05" y2="317.13" stroke="#d8d8d8" stroke-width="1" stroke-dasharray="2.3 2.594"/>
<line x1="373.25" y1="317.13" x2="375.25" y2="317.13" stroke="#4a4a4a" stroke-width="0.9"/>
<line x1="681.05" y1="317.13" x2="683.05" y2="317.13" stroke="#4a4a4a" stroke-width="0.9"/>
<text x="369.45" y="319.73" font-size="6.3" text-anchor="end" fill="#1a1a1a">19</text>
<line x1="377.69" y1="310.1" x2="682.05" y2="310.1" stroke="#d8d8d8" stroke-width="1" stroke-dasharray="2.3 2.594"/>
<line x1="373.25" y1="310.1" x2="375.25" y2="310.1" stroke="#4a4a4a" stroke-width="0.9"/>
<line x1="681.05" y1="310.1" x2="683.05" y2="310.1" stroke="#4a4a4a" stroke-width="0.9"/>
<line x1="377.69" y1="303.07" x2="682.05" y2="303.07" stroke="#d8d8d8" stroke-width="1" stroke-dasharray="2.3 2.594"/>
<line x1="373.25" y1="303.07" x2="375.25" y2="303.07" stroke="#4a4a4a" stroke-width="0.9"/>
<line x1="681.05" y1="303.07" x2="683.05" y2="303.07" stroke="#4a4a4a" stroke-width="0.9"/>
<text x="369.45" y="305.67" font-size="6.3" text-anchor="end" fill="#1a1a1a">21</text>
<line x1="377.69" y1="296.03" x2="682.05" y2="296.03" stroke="#d8d8d8" stroke-width="1" stroke-dasharray="2.3 2.594"/>
<line x1="373.25" y1="296.03" x2="375.25" y2="296.03" stroke="#4a4a4a" stroke-width="0.9"/>
<line x1="681.05" y1="296.03" x2="683.05" y2="296.03" stroke="#4a4a4a" stroke-width="0.9"/>
<line x1="373.25" y1="289" x2="375.25" y2="289" stroke="#4a4a4a" stroke-width="0.9"/>
<line x1="681.05" y1="289" x2="683.05" y2="289" stroke="#4a4a4a" stroke-width="0.9"/>
<text x="369.45" y="291.6" font-size="6.3" text-anchor="end" fill="#1a1a1a">23</text>
<line x1="411.98" y1="415.8" x2="411.98" y2="414" stroke="#4a4a4a" stroke-width="0.9"/>
<line x1="489.42" y1="415.8" x2="489.42" y2="414" stroke="#4a4a4a" stroke-width="0.9"/>
<line x1="566.88" y1="415.8" x2="566.88" y2="414" stroke="#4a4a4a" stroke-width="0.9"/>
<line x1="644.32" y1="415.8" x2="644.32" y2="414" stroke="#4a4a4a" stroke-width="0.9"/>
<rect x="373.25" y="288.85" width="309.8" height="126.95" fill="none" stroke="#7c7c7c" stroke-width="1.3"/>
<text transform="translate(352.3,356.8) rotate(-90)" font-size="8.7" text-anchor="middle" fill="#1a1a1a">CAT [U/L]</text>
<rect x="35" y="8.6" width="90" height="10.6" fill="#fff"/>
<rect x="35" y="19.2" width="72" height="10" fill="#fff"/>
<path d="M55.5,95.4 L132,90.4 L208,87.4 L284,61.4" fill="none" stroke="#4040ff" stroke-width="0.85" stroke-dasharray="2.8 2.2"/>
<path d="M86.6,85.4 L162.4,53.6 L238,66.6 L315,36" fill="none" stroke="#ff4c4c" stroke-width="0.85" stroke-dasharray="2.8 2.2"/>
<path d="M55.4,62.85 L57.85,67.3 L52.95,67.3 Z" fill="none" stroke="#2a7fff" stroke-width="0.9" stroke-linejoin="miter"/>
<path d="M52.4,89.45 L54.85,93.9 L49.95,93.9 Z" fill="none" stroke="#2a7fff" stroke-width="0.9" stroke-linejoin="miter"/>
<path d="M58,87.45 L60.45,91.9 L55.55,91.9 Z" fill="none" stroke="#2a7fff" stroke-width="0.9" stroke-linejoin="miter"/>
<path d="M59,94.85 L61.45,99.3 L56.55,99.3 Z" fill="none" stroke="#2a7fff" stroke-width="0.9" stroke-linejoin="miter"/>
<path d="M58,100.85 L60.45,105.3 L55.55,105.3 Z" fill="none" stroke="#2a7fff" stroke-width="0.9" stroke-linejoin="miter"/>
<path d="M60,108.85 L62.45,113.3 L57.55,113.3 Z" fill="none" stroke="#2a7fff" stroke-width="0.9" stroke-linejoin="miter"/>
<path d="M53.6,112.85 L56.05,117.3 L51.15,117.3 Z" fill="none" stroke="#2a7fff" stroke-width="0.9" stroke-linejoin="miter"/>
<path d="M125.6,73.85 L128.05,78.3 L123.15,78.3 Z" fill="none" stroke="#2a7fff" stroke-width="0.9" stroke-linejoin="miter"/>
<path d="M128,77.45 L130.45,81.9 L125.55,81.9 Z" fill="none" stroke="#2a7fff" stroke-width="0.9" stroke-linejoin="miter"/>
<path d="M136.6,83.45 L139.05,87.9 L134.15,87.9 Z" fill="none" stroke="#2a7fff" stroke-width="0.9" stroke-linejoin="miter"/>
<path d="M132.4,84.45 L134.85,88.9 L129.95,88.9 Z" fill="none" stroke="#2a7fff" stroke-width="0.9" stroke-linejoin="miter"/>
<path d="M131,94.85 L133.45,99.3 L128.55,99.3 Z" fill="none" stroke="#2a7fff" stroke-width="0.9" stroke-linejoin="miter"/>
<path d="M125.6,104.85 L128.05,109.3 L123.15,109.3 Z" fill="none" stroke="#2a7fff" stroke-width="0.9" stroke-linejoin="miter"/>
<path d="M137.4,101.85 L139.85,106.3 L134.95,106.3 Z" fill="none" stroke="#2a7fff" stroke-width="0.9" stroke-linejoin="miter"/>
<path d="M211.4,50.25 L213.85,54.7 L208.95,54.7 Z" fill="none" stroke="#2a7fff" stroke-width="0.9" stroke-linejoin="miter"/>
<path d="M213,72.85 L215.45,77.3 L210.55,77.3 Z" fill="none" stroke="#2a7fff" stroke-width="0.9" stroke-linejoin="miter"/>
<path d="M211.4,75.45 L213.85,79.9 L208.95,79.9 Z" fill="none" stroke="#2a7fff" stroke-width="0.9" stroke-linejoin="miter"/>
<path d="M206,88.85 L208.45,93.3 L203.55,93.3 Z" fill="none" stroke="#2a7fff" stroke-width="0.9" stroke-linejoin="miter"/>
<path d="M209.6,108.85 L212.05,113.3 L207.15,113.3 Z" fill="none" stroke="#2a7fff" stroke-width="0.9" stroke-linejoin="miter"/>
<path d="M207.4,120.85 L209.85,125.3 L204.95,125.3 Z" fill="none" stroke="#2a7fff" stroke-width="0.9" stroke-linejoin="miter"/>
<path d="M289,39.25 L291.45,43.7 L286.55,43.7 Z" fill="none" stroke="#2a7fff" stroke-width="0.9" stroke-linejoin="miter"/>
<path d="M281.4,49.45 L283.85,53.9 L278.95,53.9 Z" fill="none" stroke="#2a7fff" stroke-width="0.9" stroke-linejoin="miter"/>
<path d="M280.6,54.25 L283.05,58.7 L278.15,58.7 Z" fill="none" stroke="#2a7fff" stroke-width="0.9" stroke-linejoin="miter"/>
<path d="M280.6,78.25 L283.05,82.7 L278.15,82.7 Z" fill="none" stroke="#2a7fff" stroke-width="0.9" stroke-linejoin="miter"/>
<path d="M288.4,78.85 L290.85,83.3 L285.95,83.3 Z" fill="none" stroke="#2a7fff" stroke-width="0.9" stroke-linejoin="miter"/>
<circle cx="87" cy="72.6" r="2.45" fill="none" stroke="#c83434" stroke-width="0.85"/>
<circle cx="84.4" cy="86" r="2.45" fill="none" stroke="#c83434" stroke-width="0.85"/>
<circle cx="83.9" cy="89.5" r="2.45" fill="none" stroke="#c83434" stroke-width="0.85"/>
<circle cx="92" cy="86" r="2.45" fill="none" stroke="#c83434" stroke-width="0.85"/>
<circle cx="79.9" cy="94.9" r="2.45" fill="none" stroke="#c83434" stroke-width="0.85"/>
<circle cx="86.6" cy="84.6" r="2.45" fill="none" stroke="#c83434" stroke-width="0.85"/>
<circle cx="161" cy="32.6" r="2.45" fill="none" stroke="#c83434" stroke-width="0.85"/>
<circle cx="159.4" cy="48.6" r="2.45" fill="none" stroke="#c83434" stroke-width="0.85"/>
<circle cx="159" cy="53" r="2.45" fill="none" stroke="#c83434" stroke-width="0.85"/>
<circle cx="167.6" cy="54" r="2.45" fill="none" stroke="#c83434" stroke-width="0.85"/>
<circle cx="159.4" cy="69" r="2.45" fill="none" stroke="#c83434" stroke-width="0.85"/>
<circle cx="165.6" cy="68" r="2.45" fill="none" stroke="#c83434" stroke-width="0.85"/>
<circle cx="235.4" cy="26" r="2.45" fill="none" stroke="#c83434" stroke-width="0.85"/>
<circle cx="234" cy="51" r="2.45" fill="none" stroke="#c83434" stroke-width="0.85"/>
<circle cx="232" cy="64.5" r="2.45" fill="none" stroke="#c83434" stroke-width="0.85"/>
<circle cx="232.6" cy="77.4" r="2.45" fill="none" stroke="#c83434" stroke-width="0.85"/>
<circle cx="238.4" cy="85.4" r="2.45" fill="none" stroke="#c83434" stroke-width="0.85"/>
<circle cx="235" cy="97.6" r="2.45" fill="none" stroke="#c83434" stroke-width="0.85"/>
<circle cx="318.6" cy="13" r="2.45" fill="none" stroke="#c83434" stroke-width="0.85"/>
<circle cx="317.4" cy="34.6" r="2.45" fill="none" stroke="#c83434" stroke-width="0.85"/>
<circle cx="318" cy="49" r="2.45" fill="none" stroke="#c83434" stroke-width="0.85"/>
<line x1="55.5" y1="80" x2="55.5" y2="110.4" stroke="#0000ff" stroke-width="1.3"/><line x1="52" y1="80" x2="59" y2="80" stroke="#0000ff" stroke-width="1.3"/><line x1="52" y1="110.4" x2="59" y2="110.4" stroke="#0000ff" stroke-width="1.3"/><circle cx="55.5" cy="95.4" r="2.6" fill="#0000ff"/>
<line x1="132" y1="79.4" x2="132" y2="101.4" stroke="#0000ff" stroke-width="1.3"/><line x1="128.5" y1="79.4" x2="135.5" y2="79.4" stroke="#0000ff" stroke-width="1.3"/><line x1="128.5" y1="101.4" x2="135.5" y2="101.4" stroke="#0000ff" stroke-width="1.3"/><circle cx="132" cy="90.4" r="2.6" fill="#0000ff"/>
<line x1="208" y1="60.6" x2="208" y2="114.4" stroke="#0000ff" stroke-width="1.3"/><line x1="204.5" y1="60.6" x2="211.5" y2="60.6" stroke="#0000ff" stroke-width="1.3"/><line x1="204.5" y1="114.4" x2="211.5" y2="114.4" stroke="#0000ff" stroke-width="1.3"/><circle cx="208" cy="87.4" r="2.6" fill="#0000ff"/>
<line x1="284" y1="39.4" x2="284" y2="84" stroke="#0000ff" stroke-width="1.3"/><line x1="280.5" y1="39.4" x2="287.5" y2="39.4" stroke="#0000ff" stroke-width="1.3"/><line x1="280.5" y1="84" x2="287.5" y2="84" stroke="#0000ff" stroke-width="1.3"/><circle cx="284" cy="61.4" r="2.6" fill="#0000ff"/>
<line x1="86.6" y1="77.6" x2="86.6" y2="93.4" stroke="#ff0000" stroke-width="1.3"/><line x1="83.1" y1="77.6" x2="90.1" y2="77.6" stroke="#ff0000" stroke-width="1.3"/><line x1="83.1" y1="93.4" x2="90.1" y2="93.4" stroke="#ff0000" stroke-width="1.3"/><circle cx="86.6" cy="85.4" r="2.6" fill="#ff0000"/>
<line x1="162.4" y1="40" x2="162.4" y2="68" stroke="#ff0000" stroke-width="1.3"/><line x1="158.9" y1="40" x2="165.9" y2="40" stroke="#ff0000" stroke-width="1.3"/><line x1="158.9" y1="68" x2="165.9" y2="68" stroke="#ff0000" stroke-width="1.3"/><circle cx="162.4" cy="53.6" r="2.6" fill="#ff0000"/>
<line x1="238" y1="40" x2="238" y2="94.4" stroke="#ff0000" stroke-width="1.3"/><line x1="234.5" y1="40" x2="241.5" y2="40" stroke="#ff0000" stroke-width="1.3"/><line x1="234.5" y1="94.4" x2="241.5" y2="94.4" stroke="#ff0000" stroke-width="1.3"/><circle cx="238" cy="66.6" r="2.6" fill="#ff0000"/>
<line x1="315" y1="8.6" x2="315" y2="64.4" stroke="#ff0000" stroke-width="1.3"/><line x1="311.5" y1="8.6" x2="318.5" y2="8.6" stroke="#ff0000" stroke-width="1.3"/><line x1="311.5" y1="64.4" x2="318.5" y2="64.4" stroke="#ff0000" stroke-width="1.3"/><circle cx="315" cy="36" r="2.6" fill="#ff0000"/>
<path d="M401.4,60 L477.4,57.6 L553.6,83.4 L629.6,50.4" fill="none" stroke="#4040ff" stroke-width="0.85" stroke-dasharray="2.8 2.2"/>
<path d="M431.6,45 L508,100.6 L584,102.6 L660.4,102.6" fill="none" stroke="#ff4c4c" stroke-width="0.85" stroke-dasharray="2.8 2.2"/>
<path d="M402.6,28.85 L405.05,33.3 L400.15,33.3 Z" fill="none" stroke="#2a7fff" stroke-width="0.9" stroke-linejoin="miter"/>
<path d="M406.6,34.85 L409.05,39.3 L404.15,39.3 Z" fill="none" stroke="#2a7fff" stroke-width="0.9" stroke-linejoin="miter"/>
<path d="M395.4,50.85 L397.85,55.3 L392.95,55.3 Z" fill="none" stroke="#2a7fff" stroke-width="0.9" stroke-linejoin="miter"/>
<path d="M404,56.85 L406.45,61.3 L401.55,61.3 Z" fill="none" stroke="#2a7fff" stroke-width="0.9" stroke-linejoin="miter"/>
<path d="M398.6,65.25 L401.05,69.7 L396.15,69.7 Z" fill="none" stroke="#2a7fff" stroke-width="0.9" stroke-linejoin="miter"/>
<path d="M396.4,75.85 L398.85,80.3 L393.95,80.3 Z" fill="none" stroke="#2a7fff" stroke-width="0.9" stroke-linejoin="miter"/>
<path d="M402.6,97.45 L405.05,101.9 L400.15,101.9 Z" fill="none" stroke="#2a7fff" stroke-width="0.9" stroke-linejoin="miter"/>
<path d="M472.6,22.85 L475.05,27.3 L470.15,27.3 Z" fill="none" stroke="#2a7fff" stroke-width="0.9" stroke-linejoin="miter"/>
<path d="M479.4,28.85 L481.85,33.3 L476.95,33.3 Z" fill="none" stroke="#2a7fff" stroke-width="0.9" stroke-linejoin="miter"/>
<path d="M472.4,41.45 L474.85,45.9 L469.95,45.9 Z" fill="none" stroke="#2a7fff" stroke-width="0.9" stroke-linejoin="miter"/>
<path d="M475,50.85 L477.45,55.3 L472.55,55.3 Z" fill="none" stroke="#2a7fff" stroke-width="0.9" stroke-linejoin="miter"/>
<path d="M475.6,59.45 L478.05,63.9 L473.15,63.9 Z" fill="none" stroke="#2a7fff" stroke-width="0.9" stroke-linejoin="miter"/>
<path d="M483.4,89.45 L485.85,93.9 L480.95,93.9 Z" fill="none" stroke="#2a7fff" stroke-width="0.9" stroke-linejoin="miter"/>
<path d="M483.6,96.85 L486.05,101.3 L481.15,101.3 Z" fill="none" stroke="#2a7fff" stroke-width="0.9" stroke-linejoin="miter"/>
<path d="M552.6,34.85 L555.05,39.3 L550.15,39.3 Z" fill="none" stroke="#2a7fff" stroke-width="0.9" stroke-linejoin="miter"/>
<path d="M557.6,34.85 L560.05,39.3 L555.15,39.3 Z" fill="none" stroke="#2a7fff" stroke-width="0.9" stroke-linejoin="miter"/>
<path d="M557.6,94.45 L560.05,98.9 L555.15,98.9 Z" fill="none" stroke="#2a7fff" stroke-width="0.9" stroke-linejoin="miter"/>
<path d="M559,105.85 L561.45,110.3 L556.55,110.3 Z" fill="none" stroke="#2a7fff" stroke-width="0.9" stroke-linejoin="miter"/>
<path d="M552.6,107.45 L555.05,111.9 L550.15,111.9 Z" fill="none" stroke="#2a7fff" stroke-width="0.9" stroke-linejoin="miter"/>
<path d="M553,111.85 L555.45,116.3 L550.55,116.3 Z" fill="none" stroke="#2a7fff" stroke-width="0.9" stroke-linejoin="miter"/>
<path d="M631.6,21.85 L634.05,26.3 L629.15,26.3 Z" fill="none" stroke="#2a7fff" stroke-width="0.9" stroke-linejoin="miter"/>
<path d="M624.4,27.85 L626.85,32.3 L621.95,32.3 Z" fill="none" stroke="#2a7fff" stroke-width="0.9" stroke-linejoin="miter"/>
<path d="M626.6,40.45 L629.05,44.9 L624.15,44.9 Z" fill="none" stroke="#2a7fff" stroke-width="0.9" stroke-linejoin="miter"/>
<path d="M632.6,57.45 L635.05,61.9 L630.15,61.9 Z" fill="none" stroke="#2a7fff" stroke-width="0.9" stroke-linejoin="miter"/>
<path d="M624.4,96.25 L626.85,100.7 L621.95,100.7 Z" fill="none" stroke="#2a7fff" stroke-width="0.9" stroke-linejoin="miter"/>
<circle cx="436" cy="30" r="2.45" fill="none" stroke="#c83434" stroke-width="0.85"/>
<circle cx="436" cy="37" r="2.45" fill="none" stroke="#c83434" stroke-width="0.85"/>
<circle cx="427" cy="39.4" r="2.45" fill="none" stroke="#c83434" stroke-width="0.85"/>
<circle cx="431" cy="61" r="2.45" fill="none" stroke="#c83434" stroke-width="0.85"/>
<circle cx="431" cy="63.6" r="2.45" fill="none" stroke="#c83434" stroke-width="0.85"/>
<circle cx="508.6" cy="83" r="2.45" fill="none" stroke="#c83434" stroke-width="0.85"/>
<circle cx="511.4" cy="97" r="2.45" fill="none" stroke="#c83434" stroke-width="0.85"/>
<circle cx="502" cy="103.6" r="2.45" fill="none" stroke="#c83434" stroke-width="0.85"/>
<circle cx="505" cy="106" r="2.45" fill="none" stroke="#c83434" stroke-width="0.85"/>
<circle cx="511" cy="112.4" r="2.45" fill="none" stroke="#c83434" stroke-width="0.85"/>
<circle cx="579" cy="92" r="2.45" fill="none" stroke="#c83434" stroke-width="0.85"/>
<circle cx="586.6" cy="89.4" r="2.45" fill="none" stroke="#c83434" stroke-width="0.85"/>
<circle cx="584.6" cy="96" r="2.45" fill="none" stroke="#c83434" stroke-width="0.85"/>
<circle cx="590" cy="109" r="2.45" fill="none" stroke="#c83434" stroke-width="0.85"/>
<circle cx="582" cy="110" r="2.45" fill="none" stroke="#c83434" stroke-width="0.85"/>
<circle cx="587.6" cy="120" r="2.45" fill="none" stroke="#c83434" stroke-width="0.85"/>
<circle cx="666" cy="96" r="2.45" fill="none" stroke="#c83434" stroke-width="0.85"/>
<circle cx="666" cy="102" r="2.45" fill="none" stroke="#c83434" stroke-width="0.85"/>
<circle cx="658" cy="104.6" r="2.45" fill="none" stroke="#c83434" stroke-width="0.85"/>
<circle cx="660.6" cy="111" r="2.45" fill="none" stroke="#c83434" stroke-width="0.85"/>
<line x1="401.4" y1="38.4" x2="401.4" y2="82.4" stroke="#0000ff" stroke-width="1.3"/><line x1="397.9" y1="38.4" x2="404.9" y2="38.4" stroke="#0000ff" stroke-width="1.3"/><line x1="397.9" y1="82.4" x2="404.9" y2="82.4" stroke="#0000ff" stroke-width="1.3"/><circle cx="401.4" cy="60" r="2.6" fill="#0000ff"/>
<line x1="477.4" y1="31.4" x2="477.4" y2="83.6" stroke="#0000ff" stroke-width="1.3"/><line x1="473.9" y1="31.4" x2="480.9" y2="31.4" stroke="#0000ff" stroke-width="1.3"/><line x1="473.9" y1="83.6" x2="480.9" y2="83.6" stroke="#0000ff" stroke-width="1.3"/><circle cx="477.4" cy="57.6" r="2.6" fill="#0000ff"/>
<line x1="553.6" y1="45.4" x2="553.6" y2="121.6" stroke="#0000ff" stroke-width="1.3"/><line x1="550.1" y1="45.4" x2="557.1" y2="45.4" stroke="#0000ff" stroke-width="1.3"/><line x1="550.1" y1="121.6" x2="557.1" y2="121.6" stroke="#0000ff" stroke-width="1.3"/><circle cx="553.6" cy="83.4" r="2.6" fill="#0000ff"/>
<line x1="629.6" y1="13.6" x2="629.6" y2="87.4" stroke="#0000ff" stroke-width="1.3"/><line x1="626.1" y1="13.6" x2="633.1" y2="13.6" stroke="#0000ff" stroke-width="1.3"/><line x1="626.1" y1="87.4" x2="633.1" y2="87.4" stroke="#0000ff" stroke-width="1.3"/><circle cx="629.6" cy="50.4" r="2.6" fill="#0000ff"/>
<line x1="431.6" y1="31" x2="431.6" y2="59.4" stroke="#ff0000" stroke-width="1.3"/><line x1="428.1" y1="31" x2="435.1" y2="31" stroke="#ff0000" stroke-width="1.3"/><line x1="428.1" y1="59.4" x2="435.1" y2="59.4" stroke="#ff0000" stroke-width="1.3"/><circle cx="431.6" cy="45" r="2.6" fill="#ff0000"/>
<line x1="508" y1="90" x2="508" y2="111.6" stroke="#ff0000" stroke-width="1.3"/><line x1="504.5" y1="90" x2="511.5" y2="90" stroke="#ff0000" stroke-width="1.3"/><line x1="504.5" y1="111.6" x2="511.5" y2="111.6" stroke="#ff0000" stroke-width="1.3"/><circle cx="508" cy="100.6" r="2.6" fill="#ff0000"/>
<line x1="584" y1="89.4" x2="584" y2="115.4" stroke="#ff0000" stroke-width="1.3"/><line x1="580.5" y1="89.4" x2="587.5" y2="89.4" stroke="#ff0000" stroke-width="1.3"/><line x1="580.5" y1="115.4" x2="587.5" y2="115.4" stroke="#ff0000" stroke-width="1.3"/><circle cx="584" cy="102.6" r="2.6" fill="#ff0000"/>
<line x1="660.4" y1="93" x2="660.4" y2="113.6" stroke="#ff0000" stroke-width="1.3"/><line x1="656.9" y1="93" x2="663.9" y2="93" stroke="#ff0000" stroke-width="1.3"/><line x1="656.9" y1="113.6" x2="663.9" y2="113.6" stroke="#ff0000" stroke-width="1.3"/><circle cx="660.4" cy="102.6" r="2.6" fill="#ff0000"/>
<path d="M55.4,194.4 L131.5,188.2 L208,213.4 L284,185.4" fill="none" stroke="#4040ff" stroke-width="0.85" stroke-dasharray="2.8 2.2"/>
<path d="M86,183 L162.4,251.4 L238.6,241.6 L314.4,237.6" fill="none" stroke="#ff4c4c" stroke-width="0.85" stroke-dasharray="2.8 2.2"/>
<path d="M57.6,170.85 L60.05,175.3 L55.15,175.3 Z" fill="none" stroke="#2a7fff" stroke-width="0.9" stroke-linejoin="miter"/>
<path d="M58.6,173.45 L61.05,177.9 L56.15,177.9 Z" fill="none" stroke="#2a7fff" stroke-width="0.9" stroke-linejoin="miter"/>
<path d="M53,188.25 L55.45,192.7 L50.55,192.7 Z" fill="none" stroke="#2a7fff" stroke-width="0.9" stroke-linejoin="miter"/>
<path d="M50.4,190.85 L52.85,195.3 L47.95,195.3 Z" fill="none" stroke="#2a7fff" stroke-width="0.9" stroke-linejoin="miter"/>
<path d="M58.6,198.85 L61.05,203.3 L56.15,203.3 Z" fill="none" stroke="#2a7fff" stroke-width="0.9" stroke-linejoin="miter"/>
<path d="M58.6,210.85 L61.05,215.3 L56.15,215.3 Z" fill="none" stroke="#2a7fff" stroke-width="0.9" stroke-linejoin="miter"/>
<path d="M54,213.85 L56.45,218.3 L51.55,218.3 Z" fill="none" stroke="#2a7fff" stroke-width="0.9" stroke-linejoin="miter"/>
<path d="M134.4,158.45 L136.85,162.9 L131.95,162.9 Z" fill="none" stroke="#2a7fff" stroke-width="0.9" stroke-linejoin="miter"/>
<path d="M134.4,169.45 L136.85,173.9 L131.95,173.9 Z" fill="none" stroke="#2a7fff" stroke-width="0.9" stroke-linejoin="miter"/>
<path d="M133,174.45 L135.45,178.9 L130.55,178.9 Z" fill="none" stroke="#2a7fff" stroke-width="0.9" stroke-linejoin="miter"/>
<path d="M134,175.45 L136.45,179.9 L131.55,179.9 Z" fill="none" stroke="#2a7fff" stroke-width="0.9" stroke-linejoin="miter"/>
<path d="M136.6,191.45 L139.05,195.9 L134.15,195.9 Z" fill="none" stroke="#2a7fff" stroke-width="0.9" stroke-linejoin="miter"/>
<path d="M135.4,208.85 L137.85,213.3 L132.95,213.3 Z" fill="none" stroke="#2a7fff" stroke-width="0.9" stroke-linejoin="miter"/>
<path d="M128,227.85 L130.45,232.3 L125.55,232.3 Z" fill="none" stroke="#2a7fff" stroke-width="0.9" stroke-linejoin="miter"/>
<path d="M203.4,178.25 L205.85,182.7 L200.95,182.7 Z" fill="none" stroke="#2a7fff" stroke-width="0.9" stroke-linejoin="miter"/>
<path d="M210,199.45 L212.45,203.9 L207.55,203.9 Z" fill="none" stroke="#2a7fff" stroke-width="0.9" stroke-linejoin="miter"/>
<path d="M211.4,199.85 L213.85,204.3 L208.95,204.3 Z" fill="none" stroke="#2a7fff" stroke-width="0.9" stroke-linejoin="miter"/>
<path d="M208,217.25 L210.45,221.7 L205.55,221.7 Z" fill="none" stroke="#2a7fff" stroke-width="0.9" stroke-linejoin="miter"/>
<path d="M212.4,235.85 L214.85,240.3 L209.95,240.3 Z" fill="none" stroke="#2a7fff" stroke-width="0.9" stroke-linejoin="miter"/>
<path d="M210,240.45 L212.45,244.9 L207.55,244.9 Z" fill="none" stroke="#2a7fff" stroke-width="0.9" stroke-linejoin="miter"/>
<path d="M278.6,157.25 L281.05,161.7 L276.15,161.7 Z" fill="none" stroke="#2a7fff" stroke-width="0.9" stroke-linejoin="miter"/>
<path d="M283,162.25 L285.45,166.7 L280.55,166.7 Z" fill="none" stroke="#2a7fff" stroke-width="0.9" stroke-linejoin="miter"/>
<path d="M283,179.85 L285.45,184.3 L280.55,184.3 Z" fill="none" stroke="#2a7fff" stroke-width="0.9" stroke-linejoin="miter"/>
<path d="M285.4,198.25 L287.85,202.7 L282.95,202.7 Z" fill="none" stroke="#2a7fff" stroke-width="0.9" stroke-linejoin="miter"/>
<path d="M287,221.25 L289.45,225.7 L284.55,225.7 Z" fill="none" stroke="#2a7fff" stroke-width="0.9" stroke-linejoin="miter"/>
<circle cx="87.6" cy="171.6" r="2.45" fill="none" stroke="#c83434" stroke-width="0.85"/>
<circle cx="82" cy="174" r="2.45" fill="none" stroke="#c83434" stroke-width="0.85"/>
<circle cx="81.6" cy="176.4" r="2.45" fill="none" stroke="#c83434" stroke-width="0.85"/>
<circle cx="80" cy="181.6" r="2.45" fill="none" stroke="#c83434" stroke-width="0.85"/>
<circle cx="86.4" cy="193.6" r="2.45" fill="none" stroke="#c83434" stroke-width="0.85"/>
<circle cx="85" cy="198" r="2.45" fill="none" stroke="#c83434" stroke-width="0.85"/>
<circle cx="166.6" cy="242" r="2.45" fill="none" stroke="#c83434" stroke-width="0.85"/>
<circle cx="158" cy="246.4" r="2.45" fill="none" stroke="#c83434" stroke-width="0.85"/>
<circle cx="168" cy="248" r="2.45" fill="none" stroke="#c83434" stroke-width="0.85"/>
<circle cx="156.6" cy="250" r="2.45" fill="none" stroke="#c83434" stroke-width="0.85"/>
<circle cx="160.6" cy="257" r="2.45" fill="none" stroke="#c83434" stroke-width="0.85"/>
<circle cx="158" cy="266" r="2.45" fill="none" stroke="#c83434" stroke-width="0.85"/>
<circle cx="244" cy="207" r="2.45" fill="none" stroke="#c83434" stroke-width="0.85"/>
<circle cx="242" cy="241" r="2.45" fill="none" stroke="#c83434" stroke-width="0.85"/>
<circle cx="233" cy="246.6" r="2.45" fill="none" stroke="#c83434" stroke-width="0.85"/>
<circle cx="238" cy="249.6" r="2.45" fill="none" stroke="#c83434" stroke-width="0.85"/>
<circle cx="239" cy="253.6" r="2.45" fill="none" stroke="#c83434" stroke-width="0.85"/>
<circle cx="241.4" cy="254.4" r="2.45" fill="none" stroke="#c83434" stroke-width="0.85"/>
<circle cx="315" cy="232" r="2.45" fill="none" stroke="#c83434" stroke-width="0.85"/>
<circle cx="316" cy="237" r="2.45" fill="none" stroke="#c83434" stroke-width="0.85"/>
<circle cx="317" cy="239" r="2.45" fill="none" stroke="#c83434" stroke-width="0.85"/>
<line x1="55.4" y1="178.4" x2="55.4" y2="209.6" stroke="#0000ff" stroke-width="1.3"/><line x1="51.9" y1="178.4" x2="58.9" y2="178.4" stroke="#0000ff" stroke-width="1.3"/><line x1="51.9" y1="209.6" x2="58.9" y2="209.6" stroke="#0000ff" stroke-width="1.3"/><circle cx="55.4" cy="194.4" r="2.6" fill="#0000ff"/>
<line x1="131.5" y1="165.6" x2="131.5" y2="211" stroke="#0000ff" stroke-width="1.3"/><line x1="128" y1="165.6" x2="135" y2="165.6" stroke="#0000ff" stroke-width="1.3"/><line x1="128" y1="211" x2="135" y2="211" stroke="#0000ff" stroke-width="1.3"/><circle cx="131.5" cy="188.2" r="2.6" fill="#0000ff"/>
<line x1="208" y1="188.4" x2="208" y2="239" stroke="#0000ff" stroke-width="1.3"/><line x1="204.5" y1="188.4" x2="211.5" y2="188.4" stroke="#0000ff" stroke-width="1.3"/><line x1="204.5" y1="239" x2="211.5" y2="239" stroke="#0000ff" stroke-width="1.3"/><circle cx="208" cy="213.4" r="2.6" fill="#0000ff"/>
<line x1="284" y1="152.4" x2="284" y2="218.4" stroke="#0000ff" stroke-width="1.3"/><line x1="280.5" y1="152.4" x2="287.5" y2="152.4" stroke="#0000ff" stroke-width="1.3"/><line x1="280.5" y1="218.4" x2="287.5" y2="218.4" stroke="#0000ff" stroke-width="1.3"/><circle cx="284" cy="185.4" r="2.6" fill="#0000ff"/>
<line x1="86" y1="171" x2="86" y2="193.6" stroke="#ff0000" stroke-width="1.3"/><line x1="82.5" y1="171" x2="89.5" y2="171" stroke="#ff0000" stroke-width="1.3"/><line x1="82.5" y1="193.6" x2="89.5" y2="193.6" stroke="#ff0000" stroke-width="1.3"/><circle cx="86" cy="183" r="2.6" fill="#ff0000"/>
<line x1="162.4" y1="242.6" x2="162.4" y2="260.4" stroke="#ff0000" stroke-width="1.3"/><line x1="158.9" y1="242.6" x2="165.9" y2="242.6" stroke="#ff0000" stroke-width="1.3"/><line x1="158.9" y1="260.4" x2="165.9" y2="260.4" stroke="#ff0000" stroke-width="1.3"/><circle cx="162.4" cy="251.4" r="2.6" fill="#ff0000"/>
<line x1="238.6" y1="223" x2="238.6" y2="261.4" stroke="#ff0000" stroke-width="1.3"/><line x1="235.1" y1="223" x2="242.1" y2="223" stroke="#ff0000" stroke-width="1.3"/><line x1="235.1" y1="261.4" x2="242.1" y2="261.4" stroke="#ff0000" stroke-width="1.3"/><circle cx="238.6" cy="241.6" r="2.6" fill="#ff0000"/>
<line x1="314.4" y1="231" x2="314.4" y2="244.4" stroke="#ff0000" stroke-width="1.3"/><line x1="310.9" y1="231" x2="317.9" y2="231" stroke="#ff0000" stroke-width="1.3"/><line x1="310.9" y1="244.4" x2="317.9" y2="244.4" stroke="#ff0000" stroke-width="1.3"/><circle cx="314.4" cy="237.6" r="2.6" fill="#ff0000"/>
<path d="M398,225 L475,216 L552,224.6 L629,186.4" fill="none" stroke="#4040ff" stroke-width="0.85" stroke-dasharray="2.8 2.2"/>
<path d="M428.4,223.6 L506,236 L583,231.6 L660,208" fill="none" stroke="#ff4c4c" stroke-width="0.85" stroke-dasharray="2.8 2.2"/>
<path d="M393,222.85 L395.45,227.3 L390.55,227.3 Z" fill="none" stroke="#2a7fff" stroke-width="0.9" stroke-linejoin="miter"/>
<path d="M394.4,223.85 L396.85,228.3 L391.95,228.3 Z" fill="none" stroke="#2a7fff" stroke-width="0.9" stroke-linejoin="miter"/>
<path d="M402,218.85 L404.45,223.3 L399.55,223.3 Z" fill="none" stroke="#2a7fff" stroke-width="0.9" stroke-linejoin="miter"/>
<path d="M404,220.25 L406.45,224.7 L401.55,224.7 Z" fill="none" stroke="#2a7fff" stroke-width="0.9" stroke-linejoin="miter"/>
<path d="M394.4,230.85 L396.85,235.3 L391.95,235.3 Z" fill="none" stroke="#2a7fff" stroke-width="0.9" stroke-linejoin="miter"/>
<path d="M469.6,215.45 L472.05,219.9 L467.15,219.9 Z" fill="none" stroke="#2a7fff" stroke-width="0.9" stroke-linejoin="miter"/>
<path d="M480,215.45 L482.45,219.9 L477.55,219.9 Z" fill="none" stroke="#2a7fff" stroke-width="0.9" stroke-linejoin="miter"/>
<path d="M475,210.85 L477.45,215.3 L472.55,215.3 Z" fill="none" stroke="#2a7fff" stroke-width="0.9" stroke-linejoin="miter"/>
<path d="M472.6,225.25 L475.05,229.7 L470.15,229.7 Z" fill="none" stroke="#2a7fff" stroke-width="0.9" stroke-linejoin="miter"/>
<path d="M557.6,206.85 L560.05,211.3 L555.15,211.3 Z" fill="none" stroke="#2a7fff" stroke-width="0.9" stroke-linejoin="miter"/>
<path d="M549,219.85 L551.45,224.3 L546.55,224.3 Z" fill="none" stroke="#2a7fff" stroke-width="0.9" stroke-linejoin="miter"/>
<path d="M558,224.85 L560.45,229.3 L555.55,229.3 Z" fill="none" stroke="#2a7fff" stroke-width="0.9" stroke-linejoin="miter"/>
<path d="M552,235.85 L554.45,240.3 L549.55,240.3 Z" fill="none" stroke="#2a7fff" stroke-width="0.9" stroke-linejoin="miter"/>
<path d="M631,175.45 L633.45,179.9 L628.55,179.9 Z" fill="none" stroke="#2a7fff" stroke-width="0.9" stroke-linejoin="miter"/>
<path d="M632.4,178.85 L634.85,183.3 L629.95,183.3 Z" fill="none" stroke="#2a7fff" stroke-width="0.9" stroke-linejoin="miter"/>
<path d="M626.6,181.45 L629.05,185.9 L624.15,185.9 Z" fill="none" stroke="#2a7fff" stroke-width="0.9" stroke-linejoin="miter"/>
<path d="M627.6,202.85 L630.05,207.3 L625.15,207.3 Z" fill="none" stroke="#2a7fff" stroke-width="0.9" stroke-linejoin="miter"/>
<circle cx="423" cy="220.6" r="2.45" fill="none" stroke="#c83434" stroke-width="0.85"/>
<circle cx="427.6" cy="217.6" r="2.45" fill="none" stroke="#c83434" stroke-width="0.85"/>
<circle cx="432.4" cy="219.4" r="2.45" fill="none" stroke="#c83434" stroke-width="0.85"/>
<circle cx="432.4" cy="224.6" r="2.45" fill="none" stroke="#c83434" stroke-width="0.85"/>
<circle cx="435" cy="237.6" r="2.45" fill="none" stroke="#c83434" stroke-width="0.85"/>
<circle cx="507.6" cy="186" r="2.45" fill="none" stroke="#c83434" stroke-width="0.85"/>
<circle cx="501.4" cy="219.6" r="2.45" fill="none" stroke="#c83434" stroke-width="0.85"/>
<circle cx="501" cy="241.6" r="2.45" fill="none" stroke="#c83434" stroke-width="0.85"/>
<circle cx="504" cy="247.4" r="2.45" fill="none" stroke="#c83434" stroke-width="0.85"/>
<circle cx="502" cy="258.4" r="2.45" fill="none" stroke="#c83434" stroke-width="0.85"/>
<circle cx="507" cy="264.4" r="2.45" fill="none" stroke="#c83434" stroke-width="0.85"/>
<circle cx="587.6" cy="194.6" r="2.45" fill="none" stroke="#c83434" stroke-width="0.85"/>
<circle cx="578.4" cy="206.6" r="2.45" fill="none" stroke="#c83434" stroke-width="0.85"/>
<circle cx="583.6" cy="220.6" r="2.45" fill="none" stroke="#c83434" stroke-width="0.85"/>
<circle cx="577.4" cy="237.4" r="2.45" fill="none" stroke="#c83434" stroke-width="0.85"/>
<circle cx="585" cy="262.6" r="2.45" fill="none" stroke="#c83434" stroke-width="0.85"/>
<circle cx="586" cy="269" r="2.45" fill="none" stroke="#c83434" stroke-width="0.85"/>
<circle cx="658.6" cy="166.6" r="2.45" fill="none" stroke="#c83434" stroke-width="0.85"/>
<circle cx="660.6" cy="196.4" r="2.45" fill="none" stroke="#c83434" stroke-width="0.85"/>
<circle cx="665" cy="226.4" r="2.45" fill="none" stroke="#c83434" stroke-width="0.85"/>
<circle cx="663.6" cy="242.6" r="2.45" fill="none" stroke="#c83434" stroke-width="0.85"/>
<line x1="398" y1="221" x2="398" y2="229.4" stroke="#0000ff" stroke-width="1.3"/><line x1="394.5" y1="221" x2="401.5" y2="221" stroke="#0000ff" stroke-width="1.3"/><line x1="394.5" y1="229.4" x2="401.5" y2="229.4" stroke="#0000ff" stroke-width="1.3"/><circle cx="398" cy="225" r="2.6" fill="#0000ff"/>
<line x1="475" y1="211.6" x2="475" y2="221" stroke="#0000ff" stroke-width="1.3"/><line x1="471.5" y1="211.6" x2="478.5" y2="211.6" stroke="#0000ff" stroke-width="1.3"/><line x1="471.5" y1="221" x2="478.5" y2="221" stroke="#0000ff" stroke-width="1.3"/><circle cx="475" cy="216" r="2.6" fill="#0000ff"/>
<line x1="552" y1="214.6" x2="552" y2="235.6" stroke="#0000ff" stroke-width="1.3"/><line x1="548.5" y1="214.6" x2="555.5" y2="214.6" stroke="#0000ff" stroke-width="1.3"/><line x1="548.5" y1="235.6" x2="555.5" y2="235.6" stroke="#0000ff" stroke-width="1.3"/><circle cx="552" cy="224.6" r="2.6" fill="#0000ff"/>
<line x1="629" y1="173.6" x2="629" y2="199.4" stroke="#0000ff" stroke-width="1.3"/><line x1="625.5" y1="173.6" x2="632.5" y2="173.6" stroke="#0000ff" stroke-width="1.3"/><line x1="625.5" y1="199.4" x2="632.5" y2="199.4" stroke="#0000ff" stroke-width="1.3"/><circle cx="629" cy="186.4" r="2.6" fill="#0000ff"/>
<line x1="428.4" y1="216" x2="428.4" y2="231.4" stroke="#ff0000" stroke-width="1.3"/><line x1="424.9" y1="216" x2="431.9" y2="216" stroke="#ff0000" stroke-width="1.3"/><line x1="424.9" y1="231.4" x2="431.9" y2="231.4" stroke="#ff0000" stroke-width="1.3"/><circle cx="428.4" cy="223.6" r="2.6" fill="#ff0000"/>
<line x1="506" y1="205.4" x2="506" y2="266.4" stroke="#ff0000" stroke-width="1.3"/><line x1="502.5" y1="205.4" x2="509.5" y2="205.4" stroke="#ff0000" stroke-width="1.3"/><line x1="502.5" y1="266.4" x2="509.5" y2="266.4" stroke="#ff0000" stroke-width="1.3"/><circle cx="506" cy="236" r="2.6" fill="#ff0000"/>
<line x1="583" y1="200.4" x2="583" y2="263.4" stroke="#ff0000" stroke-width="1.3"/><line x1="579.5" y1="200.4" x2="586.5" y2="200.4" stroke="#ff0000" stroke-width="1.3"/><line x1="579.5" y1="263.4" x2="586.5" y2="263.4" stroke="#ff0000" stroke-width="1.3"/><circle cx="583" cy="231.6" r="2.6" fill="#ff0000"/>
<line x1="660" y1="154.4" x2="660" y2="261.4" stroke="#ff0000" stroke-width="1.3"/><line x1="656.5" y1="154.4" x2="663.5" y2="154.4" stroke="#ff0000" stroke-width="1.3"/><line x1="656.5" y1="261.4" x2="663.5" y2="261.4" stroke="#ff0000" stroke-width="1.3"/><circle cx="660" cy="208" r="2.6" fill="#ff0000"/>
<path d="M55.4,354.6 L131.5,343 L208,350 L284,342.4" fill="none" stroke="#4040ff" stroke-width="0.85" stroke-dasharray="2.8 2.2"/>
<path d="M86,338.4 L162.4,374.4 L238.6,367 L314.4,374" fill="none" stroke="#ff4c4c" stroke-width="0.85" stroke-dasharray="2.8 2.2"/>
<path d="M50,322.85 L52.45,327.3 L47.55,327.3 Z" fill="none" stroke="#2a7fff" stroke-width="0.9" stroke-linejoin="miter"/>
<path d="M60.4,328.25 L62.85,332.7 L57.95,332.7 Z" fill="none" stroke="#2a7fff" stroke-width="0.9" stroke-linejoin="miter"/>
<path d="M59.4,343.85 L61.85,348.3 L56.95,348.3 Z" fill="none" stroke="#2a7fff" stroke-width="0.9" stroke-linejoin="miter"/>
<path d="M49.6,350.85 L52.05,355.3 L47.15,355.3 Z" fill="none" stroke="#2a7fff" stroke-width="0.9" stroke-linejoin="miter"/>
<path d="M59,359.45 L61.45,363.9 L56.55,363.9 Z" fill="none" stroke="#2a7fff" stroke-width="0.9" stroke-linejoin="miter"/>
<path d="M61.4,370.85 L63.85,375.3 L58.95,375.3 Z" fill="none" stroke="#2a7fff" stroke-width="0.9" stroke-linejoin="miter"/>
<path d="M50.4,391.85 L52.85,396.3 L47.95,396.3 Z" fill="none" stroke="#2a7fff" stroke-width="0.9" stroke-linejoin="miter"/>
<path d="M126,303.85 L128.45,308.3 L123.55,308.3 Z" fill="none" stroke="#2a7fff" stroke-width="0.9" stroke-linejoin="miter"/>
<path d="M131,306.45 L133.45,310.9 L128.55,310.9 Z" fill="none" stroke="#2a7fff" stroke-width="0.9" stroke-linejoin="miter"/>
<path d="M126,315.45 L128.45,319.9 L123.55,319.9 Z" fill="none" stroke="#2a7fff" stroke-width="0.9" stroke-linejoin="miter"/>
<path d="M127.4,335.45 L129.85,339.9 L124.95,339.9 Z" fill="none" stroke="#2a7fff" stroke-width="0.9" stroke-linejoin="miter"/>
<path d="M127,352.85 L129.45,357.3 L124.55,357.3 Z" fill="none" stroke="#2a7fff" stroke-width="0.9" stroke-linejoin="miter"/>
<path d="M136,383.25 L138.45,387.7 L133.55,387.7 Z" fill="none" stroke="#2a7fff" stroke-width="0.9" stroke-linejoin="miter"/>
<path d="M131,391.85 L133.45,396.3 L128.55,396.3 Z" fill="none" stroke="#2a7fff" stroke-width="0.9" stroke-linejoin="miter"/>
<path d="M207,295.45 L209.45,299.9 L204.55,299.9 Z" fill="none" stroke="#2a7fff" stroke-width="0.9" stroke-linejoin="miter"/>
<path d="M204,303.85 L206.45,308.3 L201.55,308.3 Z" fill="none" stroke="#2a7fff" stroke-width="0.9" stroke-linejoin="miter"/>
<path d="M213.4,341.25 L215.85,345.7 L210.95,345.7 Z" fill="none" stroke="#2a7fff" stroke-width="0.9" stroke-linejoin="miter"/>
<path d="M204,373.25 L206.45,377.7 L201.55,377.7 Z" fill="none" stroke="#2a7fff" stroke-width="0.9" stroke-linejoin="miter"/>
<path d="M211,380.85 L213.45,385.3 L208.55,385.3 Z" fill="none" stroke="#2a7fff" stroke-width="0.9" stroke-linejoin="miter"/>
<path d="M210.6,397.85 L213.05,402.3 L208.15,402.3 Z" fill="none" stroke="#2a7fff" stroke-width="0.9" stroke-linejoin="miter"/>
<path d="M289.6,307.25 L292.05,311.7 L287.15,311.7 Z" fill="none" stroke="#2a7fff" stroke-width="0.9" stroke-linejoin="miter"/>
<path d="M288.6,315.85 L291.05,320.3 L286.15,320.3 Z" fill="none" stroke="#2a7fff" stroke-width="0.9" stroke-linejoin="miter"/>
<path d="M286,335.25 L288.45,339.7 L283.55,339.7 Z" fill="none" stroke="#2a7fff" stroke-width="0.9" stroke-linejoin="miter"/>
<path d="M288,352.85 L290.45,357.3 L285.55,357.3 Z" fill="none" stroke="#2a7fff" stroke-width="0.9" stroke-linejoin="miter"/>
<path d="M289.4,391.85 L291.85,396.3 L286.95,396.3 Z" fill="none" stroke="#2a7fff" stroke-width="0.9" stroke-linejoin="miter"/>
<circle cx="90" cy="322.6" r="2.45" fill="none" stroke="#c83434" stroke-width="0.85"/>
<circle cx="81.6" cy="330" r="2.45" fill="none" stroke="#c83434" stroke-width="0.85"/>
<circle cx="84.6" cy="332.6" r="2.45" fill="none" stroke="#c83434" stroke-width="0.85"/>
<circle cx="90.4" cy="334.6" r="2.45" fill="none" stroke="#c83434" stroke-width="0.85"/>
<circle cx="87" cy="353" r="2.45" fill="none" stroke="#c83434" stroke-width="0.85"/>
<circle cx="83" cy="357.6" r="2.45" fill="none" stroke="#c83434" stroke-width="0.85"/>
<circle cx="163" cy="350.4" r="2.45" fill="none" stroke="#c83434" stroke-width="0.85"/>
<circle cx="162" cy="363" r="2.45" fill="none" stroke="#c83434" stroke-width="0.85"/>
<circle cx="168" cy="368" r="2.45" fill="none" stroke="#c83434" stroke-width="0.85"/>
<circle cx="161" cy="381.6" r="2.45" fill="none" stroke="#c83434" stroke-width="0.85"/>
<circle cx="157.6" cy="385" r="2.45" fill="none" stroke="#c83434" stroke-width="0.85"/>
<circle cx="157" cy="399" r="2.45" fill="none" stroke="#c83434" stroke-width="0.85"/>
<circle cx="235.6" cy="344.4" r="2.45" fill="none" stroke="#c83434" stroke-width="0.85"/>
<circle cx="241" cy="350.4" r="2.45" fill="none" stroke="#c83434" stroke-width="0.85"/>
<circle cx="241" cy="359.4" r="2.45" fill="none" stroke="#c83434" stroke-width="0.85"/>
<circle cx="233.6" cy="370" r="2.45" fill="none" stroke="#c83434" stroke-width="0.85"/>
<circle cx="243" cy="380.4" r="2.45" fill="none" stroke="#c83434" stroke-width="0.85"/>
<circle cx="235.6" cy="400.4" r="2.45" fill="none" stroke="#c83434" stroke-width="0.85"/>
<circle cx="314" cy="350.4" r="2.45" fill="none" stroke="#c83434" stroke-width="0.85"/>
<circle cx="318.6" cy="362.6" r="2.45" fill="none" stroke="#c83434" stroke-width="0.85"/>
<circle cx="317" cy="385" r="2.45" fill="none" stroke="#c83434" stroke-width="0.85"/>
<circle cx="311" cy="399" r="2.45" fill="none" stroke="#c83434" stroke-width="0.85"/>
<line x1="55.4" y1="332.4" x2="55.4" y2="377" stroke="#0000ff" stroke-width="1.3"/><line x1="51.9" y1="332.4" x2="58.9" y2="332.4" stroke="#0000ff" stroke-width="1.3"/><line x1="51.9" y1="377" x2="58.9" y2="377" stroke="#0000ff" stroke-width="1.3"/><circle cx="55.4" cy="354.6" r="2.6" fill="#0000ff"/>
<line x1="131.5" y1="310" x2="131.5" y2="376.4" stroke="#0000ff" stroke-width="1.3"/><line x1="128" y1="310" x2="135" y2="310" stroke="#0000ff" stroke-width="1.3"/><line x1="128" y1="376.4" x2="135" y2="376.4" stroke="#0000ff" stroke-width="1.3"/><circle cx="131.5" cy="343" r="2.6" fill="#0000ff"/>
<line x1="208" y1="306" x2="208" y2="394.4" stroke="#0000ff" stroke-width="1.3"/><line x1="204.5" y1="306" x2="211.5" y2="306" stroke="#0000ff" stroke-width="1.3"/><line x1="204.5" y1="394.4" x2="211.5" y2="394.4" stroke="#0000ff" stroke-width="1.3"/><circle cx="208" cy="350" r="2.6" fill="#0000ff"/>
<line x1="284" y1="300.4" x2="284" y2="384" stroke="#0000ff" stroke-width="1.3"/><line x1="280.5" y1="300.4" x2="287.5" y2="300.4" stroke="#0000ff" stroke-width="1.3"/><line x1="280.5" y1="384" x2="287.5" y2="384" stroke="#0000ff" stroke-width="1.3"/><circle cx="284" cy="342.4" r="2.6" fill="#0000ff"/>
<line x1="86" y1="323.6" x2="86" y2="353.5" stroke="#ff0000" stroke-width="1.3"/><line x1="82.5" y1="323.6" x2="89.5" y2="323.6" stroke="#ff0000" stroke-width="1.3"/><line x1="82.5" y1="353.5" x2="89.5" y2="353.5" stroke="#ff0000" stroke-width="1.3"/><circle cx="86" cy="338.4" r="2.6" fill="#ff0000"/>
<line x1="162.4" y1="356.4" x2="162.4" y2="393" stroke="#ff0000" stroke-width="1.3"/><line x1="158.9" y1="356.4" x2="165.9" y2="356.4" stroke="#ff0000" stroke-width="1.3"/><line x1="158.9" y1="393" x2="165.9" y2="393" stroke="#ff0000" stroke-width="1.3"/><circle cx="162.4" cy="374.4" r="2.6" fill="#ff0000"/>
<line x1="238.6" y1="345.4" x2="238.6" y2="389" stroke="#ff0000" stroke-width="1.3"/><line x1="235.1" y1="345.4" x2="242.1" y2="345.4" stroke="#ff0000" stroke-width="1.3"/><line x1="235.1" y1="389" x2="242.1" y2="389" stroke="#ff0000" stroke-width="1.3"/><circle cx="238.6" cy="367" r="2.6" fill="#ff0000"/>
<line x1="314.4" y1="339.6" x2="314.4" y2="409.4" stroke="#ff0000" stroke-width="1.3"/><line x1="310.9" y1="339.6" x2="317.9" y2="339.6" stroke="#ff0000" stroke-width="1.3"/><line x1="310.9" y1="409.4" x2="317.9" y2="409.4" stroke="#ff0000" stroke-width="1.3"/><circle cx="314.4" cy="374" r="2.6" fill="#ff0000"/>
<path d="M396.6,340 L474,329.4 L551.4,326.4 L629,338.6" fill="none" stroke="#4040ff" stroke-width="0.85" stroke-dasharray="2.8 2.2"/>
<path d="M427.4,371.6 L504.4,365 L582.4,369 L659.6,385.6" fill="none" stroke="#ff4c4c" stroke-width="0.85" stroke-dasharray="2.8 2.2"/>
<path d="M396.6,319.45 L399.05,323.9 L394.15,323.9 Z" fill="none" stroke="#2a7fff" stroke-width="0.9" stroke-linejoin="miter"/>
<path d="M398,327.85 L400.45,332.3 L395.55,332.3 Z" fill="none" stroke="#2a7fff" stroke-width="0.9" stroke-linejoin="miter"/>
<path d="M392.6,336.25 L395.05,340.7 L390.15,340.7 Z" fill="none" stroke="#2a7fff" stroke-width="0.9" stroke-linejoin="miter"/>
<path d="M401.6,339.85 L404.05,344.3 L399.15,344.3 Z" fill="none" stroke="#2a7fff" stroke-width="0.9" stroke-linejoin="miter"/>
<path d="M399.4,367.85 L401.85,372.3 L396.95,372.3 Z" fill="none" stroke="#2a7fff" stroke-width="0.9" stroke-linejoin="miter"/>
<path d="M472.6,310.85 L475.05,315.3 L470.15,315.3 Z" fill="none" stroke="#2a7fff" stroke-width="0.9" stroke-linejoin="miter"/>
<path d="M477.4,310.85 L479.85,315.3 L474.95,315.3 Z" fill="none" stroke="#2a7fff" stroke-width="0.9" stroke-linejoin="miter"/>
<path d="M477.6,328.25 L480.05,332.7 L475.15,332.7 Z" fill="none" stroke="#2a7fff" stroke-width="0.9" stroke-linejoin="miter"/>
<path d="M474,375.85 L476.45,380.3 L471.55,380.3 Z" fill="none" stroke="#2a7fff" stroke-width="0.9" stroke-linejoin="miter"/>
<path d="M546,302.85 L548.45,307.3 L543.55,307.3 Z" fill="none" stroke="#2a7fff" stroke-width="0.9" stroke-linejoin="miter"/>
<path d="M551.6,302.85 L554.05,307.3 L549.15,307.3 Z" fill="none" stroke="#2a7fff" stroke-width="0.9" stroke-linejoin="miter"/>
<path d="M546.6,310.85 L549.05,315.3 L544.15,315.3 Z" fill="none" stroke="#2a7fff" stroke-width="0.9" stroke-linejoin="miter"/>
<path d="M556.6,335.85 L559.05,340.3 L554.15,340.3 Z" fill="none" stroke="#2a7fff" stroke-width="0.9" stroke-linejoin="miter"/>
<path d="M552.6,371.45 L555.05,375.9 L550.15,375.9 Z" fill="none" stroke="#2a7fff" stroke-width="0.9" stroke-linejoin="miter"/>
<path d="M625.6,298.25 L628.05,302.7 L623.15,302.7 Z" fill="none" stroke="#2a7fff" stroke-width="0.9" stroke-linejoin="miter"/>
<path d="M624.4,319.25 L626.85,323.7 L621.95,323.7 Z" fill="none" stroke="#2a7fff" stroke-width="0.9" stroke-linejoin="miter"/>
<path d="M623.6,351.85 L626.05,356.3 L621.15,356.3 Z" fill="none" stroke="#2a7fff" stroke-width="0.9" stroke-linejoin="miter"/>
<path d="M633,396.25 L635.45,400.7 L630.55,400.7 Z" fill="none" stroke="#2a7fff" stroke-width="0.9" stroke-linejoin="miter"/>
<circle cx="433" cy="346" r="2.45" fill="none" stroke="#c83434" stroke-width="0.85"/>
<circle cx="426" cy="357" r="2.45" fill="none" stroke="#c83434" stroke-width="0.85"/>
<circle cx="425.6" cy="362.6" r="2.45" fill="none" stroke="#c83434" stroke-width="0.85"/>
<circle cx="431.4" cy="369.4" r="2.45" fill="none" stroke="#c83434" stroke-width="0.85"/>
<circle cx="424.4" cy="382.6" r="2.45" fill="none" stroke="#c83434" stroke-width="0.85"/>
<circle cx="433.6" cy="411.4" r="2.45" fill="none" stroke="#c83434" stroke-width="0.85"/>
<circle cx="500" cy="338.6" r="2.45" fill="none" stroke="#c83434" stroke-width="0.85"/>
<circle cx="509" cy="341" r="2.45" fill="none" stroke="#c83434" stroke-width="0.85"/>
<circle cx="510.6" cy="354" r="2.45" fill="none" stroke="#c83434" stroke-width="0.85"/>
<circle cx="509.4" cy="370" r="2.45" fill="none" stroke="#c83434" stroke-width="0.85"/>
<circle cx="503" cy="385.6" r="2.45" fill="none" stroke="#c83434" stroke-width="0.85"/>
<circle cx="507" cy="398" r="2.45" fill="none" stroke="#c83434" stroke-width="0.85"/>
<circle cx="585" cy="333" r="2.45" fill="none" stroke="#c83434" stroke-width="0.85"/>
<circle cx="587" cy="348.6" r="2.45" fill="none" stroke="#c83434" stroke-width="0.85"/>
<circle cx="582.4" cy="372" r="2.45" fill="none" stroke="#c83434" stroke-width="0.85"/>
<circle cx="579" cy="377.4" r="2.45" fill="none" stroke="#c83434" stroke-width="0.85"/>
<circle cx="588" cy="390" r="2.45" fill="none" stroke="#c83434" stroke-width="0.85"/>
<circle cx="579.6" cy="395" r="2.45" fill="none" stroke="#c83434" stroke-width="0.85"/>
<circle cx="655.6" cy="369" r="2.45" fill="none" stroke="#c83434" stroke-width="0.85"/>
<circle cx="663.4" cy="384.4" r="2.45" fill="none" stroke="#c83434" stroke-width="0.85"/>
<circle cx="663" cy="388.6" r="2.45" fill="none" stroke="#c83434" stroke-width="0.85"/>
<circle cx="665" cy="400.6" r="2.45" fill="none" stroke="#c83434" stroke-width="0.85"/>
<line x1="396.6" y1="317.4" x2="396.6" y2="363" stroke="#0000ff" stroke-width="1.3"/><line x1="393.1" y1="317.4" x2="400.1" y2="317.4" stroke="#0000ff" stroke-width="1.3"/><line x1="393.1" y1="363" x2="400.1" y2="363" stroke="#0000ff" stroke-width="1.3"/><circle cx="396.6" cy="340" r="2.6" fill="#0000ff"/>
<line x1="474" y1="295" x2="474" y2="364" stroke="#0000ff" stroke-width="1.3"/><line x1="470.5" y1="295" x2="477.5" y2="295" stroke="#0000ff" stroke-width="1.3"/><line x1="470.5" y1="364" x2="477.5" y2="364" stroke="#0000ff" stroke-width="1.3"/><circle cx="474" cy="329.4" r="2.6" fill="#0000ff"/>
<line x1="551.4" y1="290.4" x2="551.4" y2="363" stroke="#0000ff" stroke-width="1.3"/><line x1="547.9" y1="290.4" x2="554.9" y2="290.4" stroke="#0000ff" stroke-width="1.3"/><line x1="547.9" y1="363" x2="554.9" y2="363" stroke="#0000ff" stroke-width="1.3"/><circle cx="551.4" cy="326.4" r="2.6" fill="#0000ff"/>
<line x1="629" y1="291.4" x2="629" y2="386.4" stroke="#0000ff" stroke-width="1.3"/><line x1="625.5" y1="291.4" x2="632.5" y2="291.4" stroke="#0000ff" stroke-width="1.3"/><line x1="625.5" y1="386.4" x2="632.5" y2="386.4" stroke="#0000ff" stroke-width="1.3"/><circle cx="629" cy="338.6" r="2.6" fill="#0000ff"/>
<line x1="427.4" y1="347" x2="427.4" y2="395.6" stroke="#ff0000" stroke-width="1.3"/><line x1="423.9" y1="347" x2="430.9" y2="347" stroke="#ff0000" stroke-width="1.3"/><line x1="423.9" y1="395.6" x2="430.9" y2="395.6" stroke="#ff0000" stroke-width="1.3"/><circle cx="427.4" cy="371.6" r="2.6" fill="#ff0000"/>
<line x1="504.4" y1="339.4" x2="504.4" y2="389.6" stroke="#ff0000" stroke-width="1.3"/><line x1="500.9" y1="339.4" x2="507.9" y2="339.4" stroke="#ff0000" stroke-width="1.3"/><line x1="500.9" y1="389.6" x2="507.9" y2="389.6" stroke="#ff0000" stroke-width="1.3"/><circle cx="504.4" cy="365" r="2.6" fill="#ff0000"/>
<line x1="582.4" y1="344" x2="582.4" y2="394.4" stroke="#ff0000" stroke-width="1.3"/><line x1="578.9" y1="344" x2="585.9" y2="344" stroke="#ff0000" stroke-width="1.3"/><line x1="578.9" y1="394.4" x2="585.9" y2="394.4" stroke="#ff0000" stroke-width="1.3"/><circle cx="582.4" cy="369" r="2.6" fill="#ff0000"/>
<line x1="659.6" y1="365" x2="659.6" y2="406.4" stroke="#ff0000" stroke-width="1.3"/><line x1="656.1" y1="365" x2="663.1" y2="365" stroke="#ff0000" stroke-width="1.3"/><line x1="656.1" y1="406.4" x2="663.1" y2="406.4" stroke="#ff0000" stroke-width="1.3"/><circle cx="659.6" cy="385.6" r="2.6" fill="#ff0000"/>
<line x1="94" y1="78" x2="155" y2="52.4" stroke="#262626" stroke-width="0.8" marker-end="url(#ah)"/>
<path d="M117.8,61.5 L118.38,62.9 L119.89,63.02 L118.74,64.01 L119.09,65.48 L117.8,64.69 L116.51,65.48 L116.86,64.01 L115.71,63.02 L117.22,62.9 Z" fill="#262626"/>
<path d="M122,59.8 L122.58,61.2 L124.09,61.32 L122.94,62.31 L123.29,63.78 L122,62.99 L120.71,63.78 L121.06,62.31 L119.91,61.32 L121.42,61.2 Z" fill="#262626"/>
<path d="M126.2,57.9 L126.78,59.3 L128.29,59.42 L127.14,60.41 L127.49,61.88 L126.2,61.09 L124.91,61.88 L125.26,60.41 L124.11,59.42 L125.62,59.3 Z" fill="#262626"/>
<line x1="132" y1="29.7" x2="166.6" y2="29.7" stroke="#5a5a5a" stroke-width="1.1"/>
<path d="M147,24.55 L147.58,25.95 L149.09,26.07 L147.94,27.06 L148.29,28.53 L147,27.74 L145.71,28.53 L146.06,27.06 L144.91,26.07 L146.42,25.95 Z" fill="#262626"/>
<path d="M152.1,24.55 L152.68,25.95 L154.19,26.07 L153.04,27.06 L153.39,28.53 L152.1,27.74 L150.81,28.53 L151.16,27.06 L150.01,26.07 L151.52,25.95 Z" fill="#262626"/>
<line x1="438" y1="46" x2="504" y2="93" stroke="#262626" stroke-width="0.8" marker-end="url(#ah)"/>
<path d="M486.75,73.4 L487.33,74.8 L488.84,74.92 L487.69,75.91 L488.04,77.38 L486.75,76.59 L485.46,77.38 L485.81,75.91 L484.66,74.92 L486.17,74.8 Z" fill="#262626"/>
<path d="M490.2,76.6 L490.78,78 L492.29,78.12 L491.14,79.11 L491.49,80.58 L490.2,79.79 L488.91,80.58 L489.26,79.11 L488.11,78.12 L489.62,78 Z" fill="#262626"/>
<path d="M494,79.8 L494.58,81.2 L496.09,81.32 L494.94,82.31 L495.29,83.78 L494,82.99 L492.71,83.78 L493.06,82.31 L491.91,81.32 L493.42,81.2 Z" fill="#262626"/>
<line x1="476.7" y1="21.4" x2="512" y2="21.4" stroke="#5a5a5a" stroke-width="1.1"/>
<path d="M493.4,16.2 L493.98,17.6 L495.49,17.72 L494.34,18.71 L494.69,20.18 L493.4,19.39 L492.11,20.18 L492.46,18.71 L491.31,17.72 L492.82,17.6 Z" fill="#262626"/>
<line x1="628.4" y1="11.3" x2="651.8" y2="11.3" stroke="#5a5a5a" stroke-width="1.1"/>
<line x1="651.8" y1="11.3" x2="663.8" y2="11.3" stroke="#a0a0a0" stroke-width="1.1"/>
<path d="M647.4,5.8 L647.98,7.2 L649.49,7.32 L648.34,8.31 L648.69,9.78 L647.4,8.99 L646.11,9.78 L646.46,8.31 L645.31,7.32 L646.82,7.2 Z" fill="#262626"/>
<line x1="95" y1="186.4" x2="156" y2="241.4" stroke="#262626" stroke-width="0.8" marker-end="url(#ah)"/>
<path d="M136.75,216.8 L137.33,218.2 L138.84,218.32 L137.69,219.31 L138.04,220.78 L136.75,219.99 L135.46,220.78 L135.81,219.31 L134.66,218.32 L136.17,218.2 Z" fill="#262626"/>
<path d="M140.4,220.7 L140.98,222.1 L142.49,222.22 L141.34,223.21 L141.69,224.68 L140.4,223.89 L139.11,224.68 L139.46,223.21 L138.31,222.22 L139.82,222.1 Z" fill="#262626"/>
<path d="M143.75,224 L144.33,225.4 L145.84,225.52 L144.69,226.51 L145.04,227.98 L143.75,227.19 L142.46,227.98 L142.81,226.51 L141.66,225.52 L143.17,225.4 Z" fill="#262626"/>
<line x1="131.9" y1="158.5" x2="166.6" y2="158.5" stroke="#5a5a5a" stroke-width="1.1"/>
<path d="M145.8,152.8 L146.38,154.2 L147.89,154.32 L146.74,155.31 L147.09,156.78 L145.8,155.99 L144.51,156.78 L144.86,155.31 L143.71,154.32 L145.22,154.2 Z" fill="#262626"/>
<path d="M150.7,152.8 L151.28,154.2 L152.79,154.32 L151.64,155.31 L151.99,156.78 L150.7,155.99 L149.41,156.78 L149.76,155.31 L148.61,154.32 L150.12,154.2 Z" fill="#262626"/>
<path d="M155.7,152.8 L156.28,154.2 L157.79,154.32 L156.64,155.31 L156.99,156.78 L155.7,155.99 L154.41,156.78 L154.76,155.31 L153.61,154.32 L155.12,154.2 Z" fill="#262626"/>
<line x1="281" y1="151.5" x2="315.9" y2="151.5" stroke="#5a5a5a" stroke-width="1.1"/>
<path d="M300.2,146.6 L300.78,148 L302.29,148.12 L301.14,149.11 L301.49,150.58 L300.2,149.79 L298.91,150.58 L299.26,149.11 L298.11,148.12 L299.62,148 Z" fill="#262626"/>
<line x1="559.4" y1="219.4" x2="623" y2="186.6" stroke="#262626" stroke-width="0.8" marker-end="url(#ah)"/>
<path d="M601.5,191.5 L602.08,192.9 L603.59,193.02 L602.44,194.01 L602.79,195.48 L601.5,194.69 L600.21,195.48 L600.56,194.01 L599.41,193.02 L600.92,192.9 Z" fill="#262626"/>
<path d="M605.7,189.3 L606.28,190.7 L607.79,190.82 L606.64,191.81 L606.99,193.28 L605.7,192.49 L604.41,193.28 L604.76,191.81 L603.61,190.82 L605.12,190.7 Z" fill="#262626"/>
<path d="M609.9,187 L610.48,188.4 L611.99,188.52 L610.84,189.51 L611.19,190.98 L609.9,190.19 L608.61,190.98 L608.96,189.51 L607.81,188.52 L609.32,188.4 Z" fill="#262626"/>
<line x1="40.5" y1="8.3" x2="40.5" y2="16.6" stroke="#ff0000" stroke-width="1.3"/><line x1="37" y1="8.3" x2="44" y2="8.3" stroke="#ff0000" stroke-width="1.3"/><line x1="37" y1="16.6" x2="44" y2="16.6" stroke="#ff0000" stroke-width="1.3"/><circle cx="40.5" cy="12.4" r="2.9" fill="#ff0000"/>
<circle cx="49" cy="12.5" r="2.45" fill="none" stroke="#c83434" stroke-width="0.85"/>
<line x1="40.5" y1="18.8" x2="40.5" y2="27.3" stroke="#0000ff" stroke-width="1.3"/><line x1="37" y1="18.8" x2="44" y2="18.8" stroke="#0000ff" stroke-width="1.3"/><line x1="37" y1="27.3" x2="44" y2="27.3" stroke="#0000ff" stroke-width="1.3"/><circle cx="40.5" cy="23" r="2.9" fill="#0000ff"/>
<path d="M49,21.25 L51.45,25.7 L46.55,25.7 Z" fill="none" stroke="#2a7fff" stroke-width="0.9" stroke-linejoin="miter"/>
<text x="54.2" y="15.3" font-size="8.75" fill="#1a1a1a">Astaxanthin group</text>
<text x="54.2" y="26.1" font-size="8.8" fill="#1a1a1a">Control group</text>
<text transform="translate(71.06,426.7) scale(1,1.14)" font-size="8.6" text-rendering="geometricPrecision" text-anchor="middle" fill="#1a1a1a">T0</text>
<text transform="translate(147.19,426.7) scale(1,1.14)" font-size="8.6" text-rendering="geometricPrecision" text-anchor="middle" fill="#1a1a1a">T1-0</text>
<text transform="translate(223.31,426.7) scale(1,1.14)" font-size="8.6" text-rendering="geometricPrecision" text-anchor="middle" fill="#1a1a1a">T2-0</text>
<text transform="translate(299.44,426.7) scale(1,1.14)" font-size="8.6" text-rendering="geometricPrecision" text-anchor="middle" fill="#1a1a1a">T3-0</text>
<text transform="translate(411.79,426.7) scale(1,1.14)" font-size="8.6" text-rendering="geometricPrecision" text-anchor="middle" fill="#1a1a1a">T0</text>
<text transform="translate(489.36,426.7) scale(1,1.14)" font-size="8.6" text-rendering="geometricPrecision" text-anchor="middle" fill="#1a1a1a">T1-0</text>
<text transform="translate(566.94,426.7) scale(1,1.14)" font-size="8.6" text-rendering="geometricPrecision" text-anchor="middle" fill="#1a1a1a">T2-0</text>
<text transform="translate(644.51,426.7) scale(1,1.14)" font-size="8.6" text-rendering="geometricPrecision" text-anchor="middle" fill="#1a1a1a">T3-0</text>
<text transform="translate(344.3,446.1) scale(1,1.13)" font-size="9.8" text-rendering="geometricPrecision" text-anchor="middle" fill="#1a1a1a">Time</text>
</svg>
</body></html>
